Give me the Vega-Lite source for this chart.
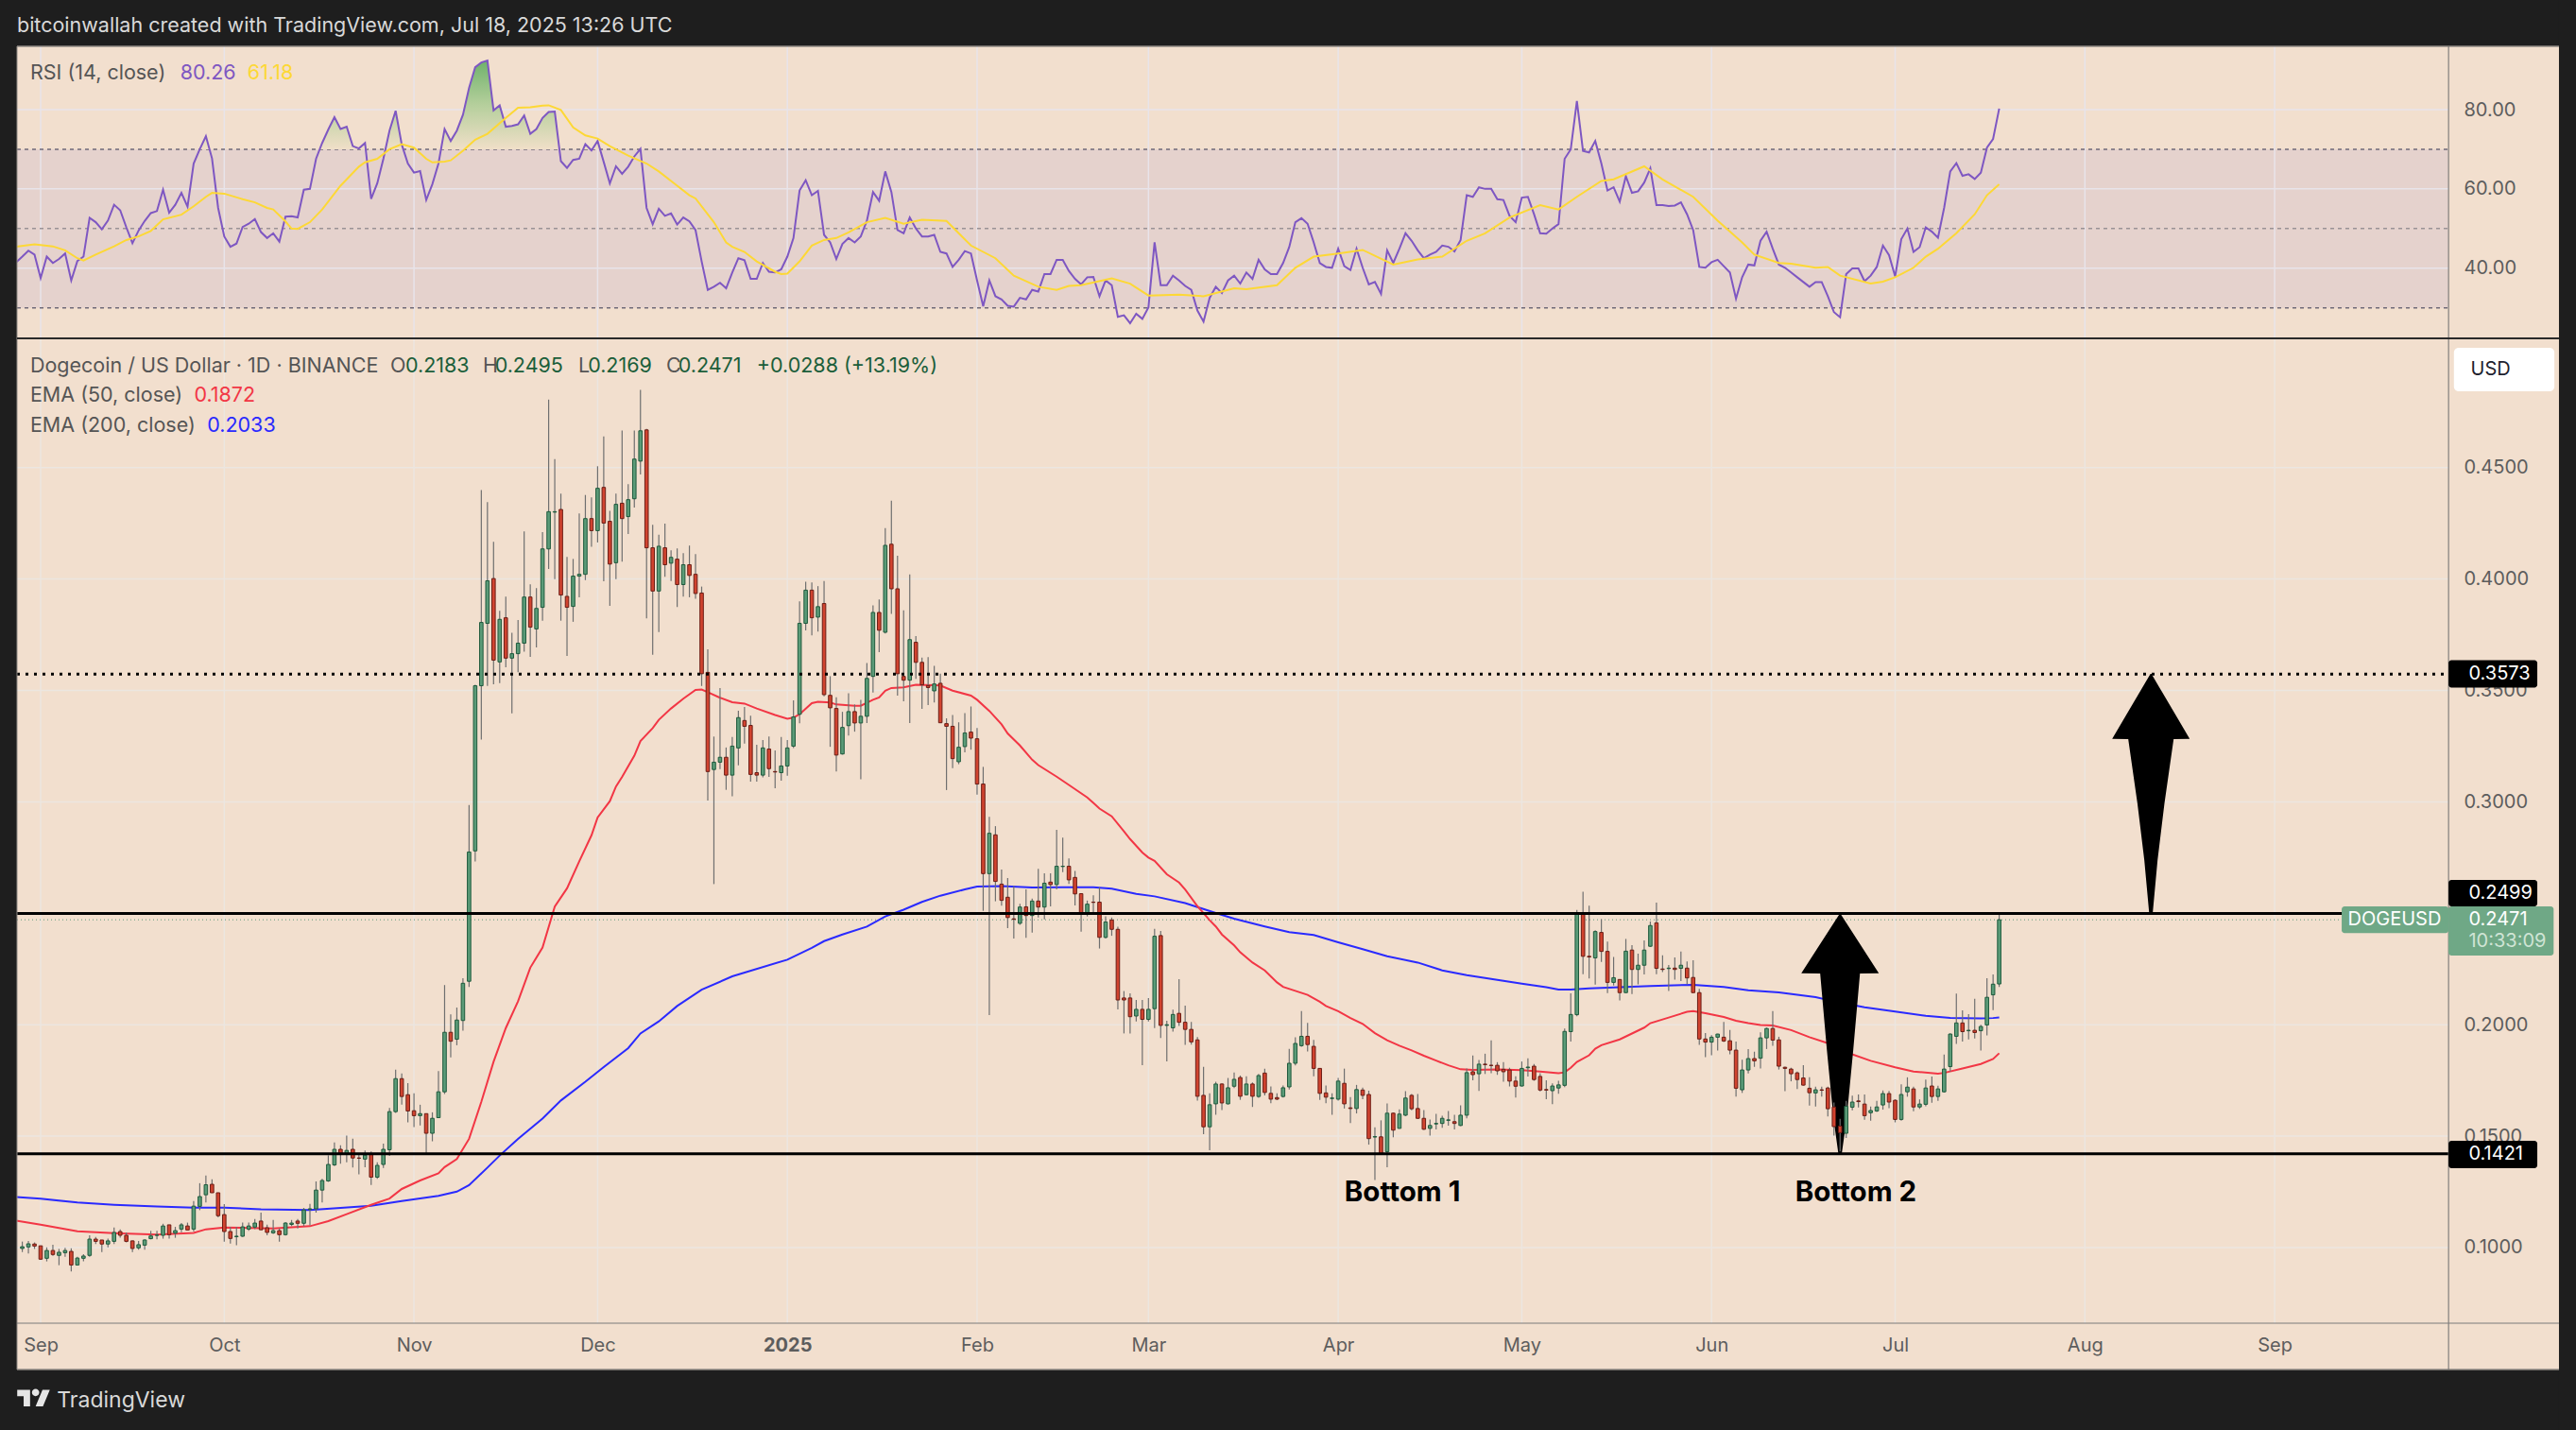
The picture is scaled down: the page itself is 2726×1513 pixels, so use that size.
{"$schema":"https://vega.github.io/schema/vega-lite/v6.json","background":"#1e1e1e","padding":0,"bounds":"flush","spacing":0,
"config":{"view":{"fill":"#f2dfce","stroke":null},"text":{"font":"Inter"}},
"datasets":{
"one":[{}],
"months":[{"d":"2024-09-01"},{"d":"2024-10-01"},{"d":"2024-11-01"},{"d":"2024-12-01"},{"d":"2025-01-01"},{"d":"2025-02-01"},{"d":"2025-03-01"},{"d":"2025-04-01"},{"d":"2025-05-01"},{"d":"2025-06-01"},{"d":"2025-07-01"},{"d":"2025-08-01"},{"d":"2025-09-01"}],
"arrows":[
{"a":"1","p":0.1424,"l":"2025-06-21T17:00:00Z","r":"2025-06-22T07:00:00Z"},{"a":"1","p":0.1581,"l":"2025-06-20T22:00:00Z","r":"2025-06-23T02:00:00Z"},{"a":"1","p":0.1891,"l":"2025-06-19T20:00:00Z","r":"2025-06-24T04:00:00Z"},{"a":"1","p":0.2230,"l":"2025-06-18T18:00:00Z","r":"2025-06-25T06:00:00Z"},{"a":"1","p":0.2231,"l":"2025-06-15T16:00:00Z","r":"2025-06-28T08:00:00Z"},{"a":"1","p":0.2497,"l":"2025-06-21T22:00:00Z","r":"2025-06-22T02:00:00Z"},
{"a":"2","p":0.2501,"l":"2025-08-11T12:00:00Z","r":"2025-08-12T02:00:00Z"},{"a":"2","p":0.2739,"l":"2025-08-10T17:00:00Z","r":"2025-08-12T21:00:00Z"},{"a":"2","p":0.2993,"l":"2025-08-09T14:00:00Z","r":"2025-08-14T00:00:00Z"},{"a":"2","p":0.3282,"l":"2025-08-08T02:00:00Z","r":"2025-08-15T12:00:00Z"},{"a":"2","p":0.3283,"l":"2025-08-05T11:00:00Z","r":"2025-08-18T03:00:00Z"},{"a":"2","p":0.3574,"l":"2025-08-11T17:00:00Z","r":"2025-08-11T21:00:00Z"}],
"over":[{"d":"2024-09-27","v":70},{"d":"2024-09-28","v":73.3},{"d":"2024-09-28T14:00:00Z","v":70},{"d":"2024-10-16T14:00:00Z","v":70},{"d":"2024-10-17","v":71.6},{"d":"2024-10-18","v":75},{"d":"2024-10-19","v":78.1},{"d":"2024-10-20","v":75.1},{"d":"2024-10-21","v":75.7},{"d":"2024-10-22","v":70.8},{"d":"2024-10-23","v":70.2},{"d":"2024-10-24","v":71.6},{"d":"2024-10-24T09:00:00Z","v":70},{"d":"2024-10-27T08:00:00Z","v":70},{"d":"2024-10-28","v":74.7},{"d":"2024-10-29","v":79.7},{"d":"2024-10-30","v":71.2},{"d":"2024-10-30T06:00:00Z","v":70},{"d":"2024-11-05T10:00:00Z","v":70},{"d":"2024-11-06","v":75.1},{"d":"2024-11-07","v":72.1},{"d":"2024-11-08","v":74.7},{"d":"2024-11-09","v":78.7},{"d":"2024-11-10","v":85.5},{"d":"2024-11-11","v":90.7},{"d":"2024-11-12","v":91.9},{"d":"2024-11-13","v":92.4},{"d":"2024-11-14","v":79.8},{"d":"2024-11-15","v":81.1},{"d":"2024-11-16","v":75.7},{"d":"2024-11-17","v":75.9},{"d":"2024-11-18","v":76.3},{"d":"2024-11-19","v":78.5},{"d":"2024-11-20","v":73.9},{"d":"2024-11-21","v":75.1},{"d":"2024-11-22","v":77.9},{"d":"2024-11-23","v":79.4},{"d":"2024-11-24","v":79.5},{"d":"2024-11-24T18:00:00Z","v":70},{"d":"2024-11-28T16:00:00Z","v":70},{"d":"2024-11-29","v":71.3},{"d":"2024-11-29T19:00:00Z","v":70},{"d":"2024-11-30T03:00:00Z","v":70},{"d":"2024-12-01","v":72.1},{"d":"2024-12-01T10:00:00Z","v":70}],
"rsi":[{"d":"2024-08-28","v":41.5},{"d":"2024-08-29","v":42.9},{"d":"2024-08-30","v":44.4},{"d":"2024-08-31","v":43.4},{"d":"2024-09-01","v":37.5},{"d":"2024-09-02","v":42.9},{"d":"2024-09-03","v":41.3},{"d":"2024-09-04","v":42.3},{"d":"2024-09-05","v":43.7},{"d":"2024-09-06","v":36.9},{"d":"2024-09-07","v":41.8},{"d":"2024-09-08","v":42.9},{"d":"2024-09-09","v":52.7},{"d":"2024-09-10","v":51.6},{"d":"2024-09-11","v":49.8},{"d":"2024-09-12","v":52},{"d":"2024-09-13","v":56},{"d":"2024-09-14","v":54.6},{"d":"2024-09-15","v":50.3},{"d":"2024-09-16","v":46.3},{"d":"2024-09-17","v":49.5},{"d":"2024-09-18","v":51.9},{"d":"2024-09-19","v":53.9},{"d":"2024-09-20","v":54.4},{"d":"2024-09-21","v":59.8},{"d":"2024-09-22","v":54},{"d":"2024-09-23","v":56},{"d":"2024-09-24","v":59},{"d":"2024-09-25","v":55.5},{"d":"2024-09-26","v":66.4},{"d":"2024-09-27","v":70},{"d":"2024-09-28","v":73.3},{"d":"2024-09-29","v":67.7},{"d":"2024-09-30","v":55.2},{"d":"2024-10-01","v":48},{"d":"2024-10-02","v":45.4},{"d":"2024-10-03","v":46.2},{"d":"2024-10-04","v":50.4},{"d":"2024-10-05","v":51.2},{"d":"2024-10-06","v":52.4},{"d":"2024-10-07","v":49.1},{"d":"2024-10-08","v":47.6},{"d":"2024-10-09","v":48.8},{"d":"2024-10-10","v":46.7},{"d":"2024-10-11","v":53},{"d":"2024-10-12","v":53.1},{"d":"2024-10-13","v":52.8},{"d":"2024-10-14","v":59.8},{"d":"2024-10-15","v":60},{"d":"2024-10-16","v":67.6},{"d":"2024-10-17","v":71.6},{"d":"2024-10-18","v":75},{"d":"2024-10-19","v":78.1},{"d":"2024-10-20","v":75.1},{"d":"2024-10-21","v":75.7},{"d":"2024-10-22","v":70.8},{"d":"2024-10-23","v":70.2},{"d":"2024-10-24","v":71.6},{"d":"2024-10-25","v":57.5},{"d":"2024-10-26","v":61.4},{"d":"2024-10-27","v":67.6},{"d":"2024-10-28","v":74.7},{"d":"2024-10-29","v":79.7},{"d":"2024-10-30","v":71.2},{"d":"2024-10-31","v":66.4},{"d":"2024-11-01","v":64.1},{"d":"2024-11-02","v":64.5},{"d":"2024-11-03","v":57.2},{"d":"2024-11-04","v":61.2},{"d":"2024-11-05","v":66.4},{"d":"2024-11-06","v":75.1},{"d":"2024-11-07","v":72.1},{"d":"2024-11-08","v":74.7},{"d":"2024-11-09","v":78.7},{"d":"2024-11-10","v":85.5},{"d":"2024-11-11","v":90.7},{"d":"2024-11-12","v":91.9},{"d":"2024-11-13","v":92.4},{"d":"2024-11-14","v":79.8},{"d":"2024-11-15","v":81.1},{"d":"2024-11-16","v":75.7},{"d":"2024-11-17","v":75.9},{"d":"2024-11-18","v":76.3},{"d":"2024-11-19","v":78.5},{"d":"2024-11-20","v":73.9},{"d":"2024-11-21","v":75.1},{"d":"2024-11-22","v":77.9},{"d":"2024-11-23","v":79.4},{"d":"2024-11-24","v":79.5},{"d":"2024-11-25","v":67},{"d":"2024-11-26","v":65.3},{"d":"2024-11-27","v":67.3},{"d":"2024-11-28","v":67.6},{"d":"2024-11-29","v":71.3},{"d":"2024-11-30","v":69.7},{"d":"2024-12-01","v":72.1},{"d":"2024-12-02","v":66.8},{"d":"2024-12-03","v":61.4},{"d":"2024-12-04","v":65.7},{"d":"2024-12-05","v":63.8},{"d":"2024-12-06","v":65.6},{"d":"2024-12-07","v":68.2},{"d":"2024-12-08","v":70.1},{"d":"2024-12-09","v":55.2},{"d":"2024-12-10","v":51.1},{"d":"2024-12-11","v":55},{"d":"2024-12-12","v":53.2},{"d":"2024-12-13","v":53.8},{"d":"2024-12-14","v":51},{"d":"2024-12-15","v":52.8},{"d":"2024-12-16","v":51.8},{"d":"2024-12-17","v":49.6},{"d":"2024-12-18","v":41.7},{"d":"2024-12-19","v":34.5},{"d":"2024-12-20","v":35.3},{"d":"2024-12-21","v":36.3},{"d":"2024-12-22","v":34.9},{"d":"2024-12-23","v":38.9},{"d":"2024-12-24","v":42.5},{"d":"2024-12-25","v":42},{"d":"2024-12-26","v":37.3},{"d":"2024-12-27","v":37.3},{"d":"2024-12-28","v":41.3},{"d":"2024-12-29","v":39.1},{"d":"2024-12-30","v":38.9},{"d":"2024-12-31","v":39.7},{"d":"2025-01-01","v":42.9},{"d":"2025-01-02","v":47.6},{"d":"2025-01-03","v":59.6},{"d":"2025-01-04","v":62.2},{"d":"2025-01-05","v":58.4},{"d":"2025-01-06","v":59.5},{"d":"2025-01-07","v":48.4},{"d":"2025-01-08","v":46.5},{"d":"2025-01-09","v":42.3},{"d":"2025-01-10","v":46.1},{"d":"2025-01-11","v":47.6},{"d":"2025-01-12","v":46.5},{"d":"2025-01-13","v":48},{"d":"2025-01-14","v":52},{"d":"2025-01-15","v":59.2},{"d":"2025-01-16","v":57},{"d":"2025-01-17","v":64.4},{"d":"2025-01-18","v":59.2},{"d":"2025-01-19","v":49.6},{"d":"2025-01-20","v":48.8},{"d":"2025-01-21","v":52.8},{"d":"2025-01-22","v":50},{"d":"2025-01-23","v":48},{"d":"2025-01-24","v":48},{"d":"2025-01-25","v":48.4},{"d":"2025-01-26","v":44.1},{"d":"2025-01-27","v":43.7},{"d":"2025-01-28","v":40.3},{"d":"2025-01-29","v":42.1},{"d":"2025-01-30","v":44.3},{"d":"2025-01-31","v":43.7},{"d":"2025-02-01","v":36.9},{"d":"2025-02-02","v":30.4},{"d":"2025-02-03","v":36.9},{"d":"2025-02-04","v":32.9},{"d":"2025-02-05","v":32.1},{"d":"2025-02-06","v":30.5},{"d":"2025-02-07","v":30.3},{"d":"2025-02-08","v":32.5},{"d":"2025-02-09","v":32.1},{"d":"2025-02-10","v":34.5},{"d":"2025-02-11","v":34.1},{"d":"2025-02-12","v":38.5},{"d":"2025-02-13","v":38.5},{"d":"2025-02-14","v":42.1},{"d":"2025-02-15","v":42.1},{"d":"2025-02-16","v":39.3},{"d":"2025-02-17","v":37.3},{"d":"2025-02-18","v":35.9},{"d":"2025-02-19","v":37.7},{"d":"2025-02-20","v":37.8},{"d":"2025-02-21","v":32.9},{"d":"2025-02-22","v":36.9},{"d":"2025-02-23","v":35.7},{"d":"2025-02-24","v":27.7},{"d":"2025-02-25","v":28.1},{"d":"2025-02-26","v":26.1},{"d":"2025-02-27","v":28.5},{"d":"2025-02-28","v":27.2},{"d":"2025-03-01","v":30.1},{"d":"2025-03-02","v":46.5},{"d":"2025-03-03","v":35.7},{"d":"2025-03-04","v":35.7},{"d":"2025-03-05","v":38.1},{"d":"2025-03-06","v":36.9},{"d":"2025-03-07","v":35.5},{"d":"2025-03-08","v":34.5},{"d":"2025-03-09","v":29.3},{"d":"2025-03-10","v":26.5},{"d":"2025-03-11","v":32.5},{"d":"2025-03-12","v":35.3},{"d":"2025-03-13","v":33.7},{"d":"2025-03-14","v":36.9},{"d":"2025-03-15","v":38.1},{"d":"2025-03-16","v":36.1},{"d":"2025-03-17","v":38.9},{"d":"2025-03-18","v":37.3},{"d":"2025-03-19","v":42.1},{"d":"2025-03-20","v":39.7},{"d":"2025-03-21","v":38.5},{"d":"2025-03-22","v":38.5},{"d":"2025-03-23","v":41.3},{"d":"2025-03-24","v":45.3},{"d":"2025-03-25","v":51.6},{"d":"2025-03-26","v":52.6},{"d":"2025-03-27","v":51.2},{"d":"2025-03-28","v":46.5},{"d":"2025-03-29","v":41.3},{"d":"2025-03-30","v":40.3},{"d":"2025-03-31","v":40.1},{"d":"2025-04-01","v":44.9},{"d":"2025-04-02","v":40.5},{"d":"2025-04-03","v":39.5},{"d":"2025-04-04","v":44.9},{"d":"2025-04-05","v":40.1},{"d":"2025-04-06","v":35.9},{"d":"2025-04-07","v":36.5},{"d":"2025-04-08","v":33.5},{"d":"2025-04-09","v":44.5},{"d":"2025-04-10","v":41.3},{"d":"2025-04-11","v":44.9},{"d":"2025-04-12","v":48.8},{"d":"2025-04-13","v":46.9},{"d":"2025-04-14","v":44.5},{"d":"2025-04-15","v":42.5},{"d":"2025-04-16","v":43.4},{"d":"2025-04-17","v":44.1},{"d":"2025-04-18","v":45.7},{"d":"2025-04-19","v":45.4},{"d":"2025-04-20","v":44.2},{"d":"2025-04-21","v":47.1},{"d":"2025-04-22","v":58.4},{"d":"2025-04-23","v":58},{"d":"2025-04-24","v":60.4},{"d":"2025-04-25","v":60},{"d":"2025-04-26","v":60},{"d":"2025-04-27","v":57.4},{"d":"2025-04-28","v":57.2},{"d":"2025-04-29","v":53.2},{"d":"2025-04-30","v":51.6},{"d":"2025-05-01","v":57.8},{"d":"2025-05-02","v":58},{"d":"2025-05-03","v":53.6},{"d":"2025-05-04","v":48.8},{"d":"2025-05-05","v":48.7},{"d":"2025-05-06","v":50},{"d":"2025-05-07","v":51.1},{"d":"2025-05-08","v":67.6},{"d":"2025-05-09","v":70},{"d":"2025-05-10","v":82.2},{"d":"2025-05-11","v":69.6},{"d":"2025-05-12","v":69.2},{"d":"2025-05-13","v":72.1},{"d":"2025-05-14","v":66.4},{"d":"2025-05-15","v":59.6},{"d":"2025-05-16","v":60.4},{"d":"2025-05-17","v":56.8},{"d":"2025-05-18","v":63.2},{"d":"2025-05-19","v":59},{"d":"2025-05-20","v":59.4},{"d":"2025-05-21","v":61.6},{"d":"2025-05-22","v":65.2},{"d":"2025-05-23","v":55.9},{"d":"2025-05-24","v":55.9},{"d":"2025-05-25","v":55.7},{"d":"2025-05-26","v":55.8},{"d":"2025-05-27","v":56.6},{"d":"2025-05-28","v":53.6},{"d":"2025-05-29","v":49.6},{"d":"2025-05-30","v":40.3},{"d":"2025-05-31","v":40.1},{"d":"2025-06-01","v":41.5},{"d":"2025-06-02","v":42.1},{"d":"2025-06-03","v":40.5},{"d":"2025-06-04","v":38.9},{"d":"2025-06-05","v":32.3},{"d":"2025-06-06","v":37.7},{"d":"2025-06-07","v":40.9},{"d":"2025-06-08","v":40.7},{"d":"2025-06-09","v":46.9},{"d":"2025-06-10","v":49.2},{"d":"2025-06-11","v":44.9},{"d":"2025-06-12","v":40.9},{"d":"2025-06-13","v":40.1},{"d":"2025-06-14","v":38.9},{"d":"2025-06-15","v":37.7},{"d":"2025-06-16","v":36.5},{"d":"2025-06-17","v":35.3},{"d":"2025-06-18","v":36.5},{"d":"2025-06-19","v":36.5},{"d":"2025-06-20","v":32.9},{"d":"2025-06-21","v":28.9},{"d":"2025-06-22","v":27.6},{"d":"2025-06-23","v":38.5},{"d":"2025-06-24","v":39.9},{"d":"2025-06-25","v":39.9},{"d":"2025-06-26","v":36.7},{"d":"2025-06-27","v":38.1},{"d":"2025-06-28","v":40.3},{"d":"2025-06-29","v":45.7},{"d":"2025-06-30","v":43.3},{"d":"2025-07-01","v":37.9},{"d":"2025-07-02","v":47.3},{"d":"2025-07-03","v":50},{"d":"2025-07-04","v":44.1},{"d":"2025-07-05","v":45.3},{"d":"2025-07-06","v":50.3},{"d":"2025-07-07","v":49.2},{"d":"2025-07-08","v":47.7},{"d":"2025-07-09","v":55.2},{"d":"2025-07-10","v":64.4},{"d":"2025-07-11","v":66.5},{"d":"2025-07-12","v":63.3},{"d":"2025-07-13","v":63.7},{"d":"2025-07-14","v":62.5},{"d":"2025-07-15","v":64.1},{"d":"2025-07-16","v":70.4},{"d":"2025-07-17","v":72.6},{"d":"2025-07-18","v":80.26}],
"rsima":[{"d":"2024-08-28","v":45.4},{"d":"2024-08-31","v":46},{"d":"2024-09-03","v":45.5},{"d":"2024-09-05","v":44.5},{"d":"2024-09-07","v":42.5},{"d":"2024-09-08","v":41.9},{"d":"2024-09-10","v":43.4},{"d":"2024-09-13","v":45.5},{"d":"2024-09-15","v":47.1},{"d":"2024-09-17","v":48},{"d":"2024-09-19","v":49.4},{"d":"2024-09-21","v":52.3},{"d":"2024-09-24","v":53.5},{"d":"2024-09-26","v":55.6},{"d":"2024-09-28","v":58},{"d":"2024-09-29","v":59},{"d":"2024-10-01","v":58.8},{"d":"2024-10-04","v":57.4},{"d":"2024-10-06","v":56.6},{"d":"2024-10-08","v":55.2},{"d":"2024-10-09","v":54.8},{"d":"2024-10-11","v":51.8},{"d":"2024-10-12","v":50},{"d":"2024-10-13","v":49.9},{"d":"2024-10-15","v":51.6},{"d":"2024-10-17","v":54.8},{"d":"2024-10-20","v":60.8},{"d":"2024-10-23","v":65.6},{"d":"2024-10-24","v":66.7},{"d":"2024-10-26","v":67.6},{"d":"2024-10-28","v":70},{"d":"2024-10-30","v":71.3},{"d":"2024-11-01","v":70.4},{"d":"2024-11-03","v":67.6},{"d":"2024-11-04","v":66.7},{"d":"2024-11-06","v":66.9},{"d":"2024-11-07","v":67.2},{"d":"2024-11-09","v":69.6},{"d":"2024-11-11","v":72.4},{"d":"2024-11-13","v":73.9},{"d":"2024-11-16","v":77.9},{"d":"2024-11-18","v":80.5},{"d":"2024-11-20","v":80.6},{"d":"2024-11-22","v":81},{"d":"2024-11-23","v":81.1},{"d":"2024-11-25","v":79.9},{"d":"2024-11-27","v":75.5},{"d":"2024-11-29","v":73.5},{"d":"2024-12-01","v":72.7},{"d":"2024-12-03","v":70.8},{"d":"2024-12-06","v":68.4},{"d":"2024-12-09","v":66.4},{"d":"2024-12-11","v":64.4},{"d":"2024-12-14","v":60.8},{"d":"2024-12-16","v":58.4},{"d":"2024-12-17","v":57.6},{"d":"2024-12-20","v":51.6},{"d":"2024-12-22","v":46.5},{"d":"2024-12-23","v":45.4},{"d":"2024-12-25","v":44.1},{"d":"2024-12-27","v":41.7},{"d":"2024-12-30","v":39.1},{"d":"2024-12-31","v":38.5},{"d":"2025-01-01","v":38.6},{"d":"2025-01-03","v":41.7},{"d":"2025-01-05","v":45.7},{"d":"2025-01-07","v":47.1},{"d":"2025-01-09","v":47.6},{"d":"2025-01-11","v":49},{"d":"2025-01-14","v":51.6},{"d":"2025-01-17","v":52.7},{"d":"2025-01-20","v":51.2},{"d":"2025-01-23","v":52.2},{"d":"2025-01-27","v":51.9},{"d":"2025-01-31","v":45.7},{"d":"2025-02-04","v":42.5},{"d":"2025-02-07","v":38.1},{"d":"2025-02-11","v":35.3},{"d":"2025-02-14","v":34.5},{"d":"2025-02-16","v":35.5},{"d":"2025-02-18","v":35.7},{"d":"2025-02-23","v":37.4},{"d":"2025-02-26","v":36.1},{"d":"2025-03-01","v":33.1},{"d":"2025-03-06","v":33.3},{"d":"2025-03-10","v":32.9},{"d":"2025-03-15","v":34.9},{"d":"2025-03-17","v":34.7},{"d":"2025-03-22","v":35.7},{"d":"2025-03-25","v":40.1},{"d":"2025-03-28","v":42.9},{"d":"2025-04-01","v":43.7},{"d":"2025-04-05","v":44.6},{"d":"2025-04-10","v":40.9},{"d":"2025-04-14","v":42.2},{"d":"2025-04-18","v":42.9},{"d":"2025-04-22","v":46.9},{"d":"2025-04-25","v":48.8},{"d":"2025-04-29","v":52.8},{"d":"2025-05-04","v":55.9},{"d":"2025-05-07","v":54.8},{"d":"2025-05-10","v":58},{"d":"2025-05-14","v":62},{"d":"2025-05-16","v":62.4},{"d":"2025-05-21","v":65.7},{"d":"2025-05-24","v":62.4},{"d":"2025-05-29","v":58},{"d":"2025-06-02","v":52},{"d":"2025-06-06","v":46.5},{"d":"2025-06-08","v":43.4},{"d":"2025-06-12","v":41.3},{"d":"2025-06-14","v":41.1},{"d":"2025-06-18","v":40.1},{"d":"2025-06-20","v":40.3},{"d":"2025-06-22","v":38.1},{"d":"2025-06-27","v":36.1},{"d":"2025-06-29","v":36.6},{"d":"2025-07-01","v":37.7},{"d":"2025-07-04","v":40.1},{"d":"2025-07-06","v":42.9},{"d":"2025-07-08","v":44.9},{"d":"2025-07-11","v":48.8},{"d":"2025-07-14","v":53.6},{"d":"2025-07-16","v":58.4},{"d":"2025-07-18","v":61.18}],
"ema50":[{"d":"2024-08-28","v":0.1121},{"d":"2024-09-01","v":0.1103},{"d":"2024-09-07","v":0.1073},{"d":"2024-09-13","v":0.1065},{"d":"2024-09-20","v":0.1058},{"d":"2024-09-26","v":0.1066},{"d":"2024-09-28","v":0.1082},{"d":"2024-10-01","v":0.109},{"d":"2024-10-09","v":0.1086},{"d":"2024-10-15","v":0.1096},{"d":"2024-10-18","v":0.1119},{"d":"2024-10-21","v":0.115},{"d":"2024-10-25","v":0.1192},{"d":"2024-10-28","v":0.122},{"d":"2024-10-30","v":0.1263},{"d":"2024-11-02","v":0.1301},{"d":"2024-11-05","v":0.1333},{"d":"2024-11-06","v":0.1361},{"d":"2024-11-08","v":0.1397},{"d":"2024-11-10","v":0.1488},{"d":"2024-11-12","v":0.1654},{"d":"2024-11-14","v":0.1834},{"d":"2024-11-16","v":0.1985},{"d":"2024-11-18","v":0.2105},{"d":"2024-11-20","v":0.2256},{"d":"2024-11-22","v":0.2346},{"d":"2024-11-24","v":0.253},{"d":"2024-11-26","v":0.2612},{"d":"2024-11-28","v":0.2733},{"d":"2024-11-30","v":0.285},{"d":"2024-12-01","v":0.293},{"d":"2024-12-03","v":0.3003},{"d":"2024-12-04","v":0.3069},{"d":"2024-12-05","v":0.3112},{"d":"2024-12-07","v":0.3207},{"d":"2024-12-08","v":0.3273},{"d":"2024-12-10","v":0.3331},{"d":"2024-12-11","v":0.3368},{"d":"2024-12-13","v":0.3419},{"d":"2024-12-15","v":0.3463},{"d":"2024-12-17","v":0.3502},{"d":"2024-12-18","v":0.3504},{"d":"2024-12-19","v":0.3492},{"d":"2024-12-21","v":0.3467},{"d":"2024-12-23","v":0.3447},{"d":"2024-12-25","v":0.3441},{"d":"2024-12-27","v":0.3419},{"d":"2024-12-30","v":0.339},{"d":"2025-01-01","v":0.3373},{"d":"2025-01-02","v":0.3378},{"d":"2025-01-03","v":0.3393},{"d":"2025-01-05","v":0.3443},{"d":"2025-01-06","v":0.3449},{"d":"2025-01-08","v":0.3446},{"d":"2025-01-09","v":0.3437},{"d":"2025-01-12","v":0.3431},{"d":"2025-01-13","v":0.3431},{"d":"2025-01-15","v":0.3458},{"d":"2025-01-16","v":0.3469},{"d":"2025-01-17","v":0.3499},{"d":"2025-01-18","v":0.3511},{"d":"2025-01-20","v":0.3514},{"d":"2025-01-22","v":0.3525},{"d":"2025-01-25","v":0.3523},{"d":"2025-01-26","v":0.3522},{"d":"2025-01-28","v":0.3499},{"d":"2025-01-31","v":0.3477},{"d":"2025-02-01","v":0.3458},{"d":"2025-02-03","v":0.3408},{"d":"2025-02-05","v":0.3348},{"d":"2025-02-06","v":0.3307},{"d":"2025-02-08","v":0.3253},{"d":"2025-02-10","v":0.3189},{"d":"2025-02-11","v":0.3165},{"d":"2025-02-14","v":0.3113},{"d":"2025-02-16","v":0.3076},{"d":"2025-02-19","v":0.302},{"d":"2025-02-20","v":0.2995},{"d":"2025-02-21","v":0.297},{"d":"2025-02-23","v":0.2935},{"d":"2025-02-25","v":0.2868},{"d":"2025-02-26","v":0.2833},{"d":"2025-02-28","v":0.2773},{"d":"2025-03-01","v":0.275},{"d":"2025-03-02","v":0.2735},{"d":"2025-03-04","v":0.2675},{"d":"2025-03-06","v":0.2638},{"d":"2025-03-07","v":0.2607},{"d":"2025-03-09","v":0.2532},{"d":"2025-03-11","v":0.2469},{"d":"2025-03-12","v":0.2441},{"d":"2025-03-13","v":0.2405},{"d":"2025-03-15","v":0.2356},{"d":"2025-03-16","v":0.2325},{"d":"2025-03-18","v":0.2279},{"d":"2025-03-20","v":0.2244},{"d":"2025-03-22","v":0.219},{"d":"2025-03-23","v":0.217},{"d":"2025-03-25","v":0.2152},{"d":"2025-03-27","v":0.2134},{"d":"2025-03-29","v":0.2103},{"d":"2025-03-30","v":0.2084},{"d":"2025-04-01","v":0.2061},{"d":"2025-04-03","v":0.203},{"d":"2025-04-05","v":0.2004},{"d":"2025-04-07","v":0.1962},{"d":"2025-04-09","v":0.193},{"d":"2025-04-11","v":0.1906},{"d":"2025-04-13","v":0.1885},{"d":"2025-04-15","v":0.1861},{"d":"2025-04-17","v":0.1839},{"d":"2025-04-19","v":0.1818},{"d":"2025-04-21","v":0.18},{"d":"2025-04-23","v":0.1797},{"d":"2025-04-27","v":0.1799},{"d":"2025-05-01","v":0.1796},{"d":"2025-05-04","v":0.179},{"d":"2025-05-07","v":0.1782},{"d":"2025-05-08","v":0.1786},{"d":"2025-05-09","v":0.1807},{"d":"2025-05-10","v":0.1833},{"d":"2025-05-12","v":0.1863},{"d":"2025-05-13","v":0.1892},{"d":"2025-05-14","v":0.1908},{"d":"2025-05-17","v":0.1934},{"d":"2025-05-21","v":0.1987},{"d":"2025-05-22","v":0.2007},{"d":"2025-05-25","v":0.2032},{"d":"2025-05-28","v":0.2058},{"d":"2025-05-29","v":0.2061},{"d":"2025-05-31","v":0.2052},{"d":"2025-06-03","v":0.2035},{"d":"2025-06-05","v":0.2018},{"d":"2025-06-07","v":0.2007},{"d":"2025-06-09","v":0.1999},{"d":"2025-06-11","v":0.1997},{"d":"2025-06-14","v":0.1976},{"d":"2025-06-17","v":0.1944},{"d":"2025-06-20","v":0.1917},{"d":"2025-06-23","v":0.1877},{"d":"2025-06-27","v":0.1838},{"d":"2025-07-01","v":0.1809},{"d":"2025-07-04","v":0.179},{"d":"2025-07-08","v":0.178},{"d":"2025-07-09","v":0.1784},{"d":"2025-07-12","v":0.1804},{"d":"2025-07-15","v":0.1824},{"d":"2025-07-17","v":0.1846},{"d":"2025-07-18","v":0.1872}],
"ema200":[{"d":"2024-08-28","v":0.1227},{"d":"2024-09-01","v":0.1219},{"d":"2024-09-07","v":0.1202},{"d":"2024-09-13","v":0.1192},{"d":"2024-09-20","v":0.1184},{"d":"2024-09-26","v":0.1179},{"d":"2024-10-01","v":0.1179},{"d":"2024-10-07","v":0.1172},{"d":"2024-10-15","v":0.1169},{"d":"2024-10-20","v":0.1178},{"d":"2024-10-25","v":0.1188},{"d":"2024-10-30","v":0.1209},{"d":"2024-11-05","v":0.1232},{"d":"2024-11-08","v":0.1251},{"d":"2024-11-10","v":0.128},{"d":"2024-11-13","v":0.1359},{"d":"2024-11-15","v":0.1413},{"d":"2024-11-18","v":0.1488},{"d":"2024-11-22","v":0.1579},{"d":"2024-11-25","v":0.166},{"d":"2024-11-29","v":0.1744},{"d":"2024-12-02","v":0.181},{"d":"2024-12-06","v":0.1895},{"d":"2024-12-08","v":0.1961},{"d":"2024-12-11","v":0.2015},{"d":"2024-12-14","v":0.2084},{"d":"2024-12-18","v":0.2157},{"d":"2024-12-23","v":0.2217},{"d":"2025-01-01","v":0.2292},{"d":"2025-01-05","v":0.2345},{"d":"2025-01-07","v":0.2375},{"d":"2025-01-10","v":0.2405},{"d":"2025-01-14","v":0.244},{"d":"2025-01-17","v":0.2486},{"d":"2025-01-20","v":0.2516},{"d":"2025-01-23","v":0.2551},{"d":"2025-01-26","v":0.2579},{"d":"2025-01-30","v":0.2607},{"d":"2025-02-01","v":0.262},{"d":"2025-02-05","v":0.2622},{"d":"2025-02-10","v":0.2616},{"d":"2025-02-15","v":0.2617},{"d":"2025-02-20","v":0.2617},{"d":"2025-02-23","v":0.261},{"d":"2025-02-27","v":0.2587},{"d":"2025-03-02","v":0.2576},{"d":"2025-03-07","v":0.2546},{"d":"2025-03-09","v":0.2528},{"d":"2025-03-12","v":0.2501},{"d":"2025-03-15","v":0.2476},{"d":"2025-03-20","v":0.2441},{"d":"2025-03-24","v":0.2415},{"d":"2025-03-28","v":0.2403},{"d":"2025-04-01","v":0.237},{"d":"2025-04-05","v":0.2339},{"d":"2025-04-09","v":0.2307},{"d":"2025-04-14","v":0.2279},{"d":"2025-04-18","v":0.2244},{"d":"2025-04-22","v":0.2222},{"d":"2025-04-28","v":0.2197},{"d":"2025-05-01","v":0.2184},{"d":"2025-05-05","v":0.2168},{"d":"2025-05-07","v":0.2158},{"d":"2025-05-09","v":0.2158},{"d":"2025-05-12","v":0.2163},{"d":"2025-05-16","v":0.2167},{"d":"2025-05-22","v":0.2174},{"d":"2025-05-29","v":0.2179},{"d":"2025-06-03","v":0.2169},{"d":"2025-06-07","v":0.2155},{"d":"2025-06-12","v":0.2145},{"d":"2025-06-18","v":0.2124},{"d":"2025-06-22","v":0.2099},{"d":"2025-06-26","v":0.2078},{"d":"2025-07-01","v":0.2059},{"d":"2025-07-06","v":0.204},{"d":"2025-07-10","v":0.2031},{"d":"2025-07-15","v":0.2028},{"d":"2025-07-17","v":0.203},{"d":"2025-07-18","v":0.2033}],
"candles":[
{"d":"2024-08-29","o":0.0996,"h":0.1027,"l":0.098,"c":0.1004},{"d":"2024-08-30","o":0.1003,"h":0.103,"l":0.0973,"c":0.1017},{"d":"2024-08-31","o":0.1016,"h":0.1023,"l":0.0994,"c":0.1007},{"d":"2024-09-01","o":0.1008,"h":0.1008,"l":0.0945,"c":0.0948},{"d":"2024-09-02","o":0.0952,"h":0.1001,"l":0.0938,"c":0.0987},{"d":"2024-09-03","o":0.0987,"h":0.1013,"l":0.0963,"c":0.0969},{"d":"2024-09-04","o":0.0965,"h":0.0994,"l":0.0921,"c":0.0979},{"d":"2024-09-05","o":0.0977,"h":0.0999,"l":0.0959,"c":0.0987},{"d":"2024-09-06","o":0.0983,"h":0.0997,"l":0.0893,"c":0.0922},{"d":"2024-09-07","o":0.0922,"h":0.0959,"l":0.092,"c":0.0953},{"d":"2024-09-08","o":0.0952,"h":0.097,"l":0.0938,"c":0.0962},{"d":"2024-09-09","o":0.0965,"h":0.1055,"l":0.0959,"c":0.1038},{"d":"2024-09-10","o":0.1038,"h":0.1048,"l":0.1016,"c":0.1028},{"d":"2024-09-11","o":0.1034,"h":0.1034,"l":0.098,"c":0.1016},{"d":"2024-09-12","o":0.1016,"h":0.104,"l":0.1001,"c":0.103},{"d":"2024-09-13","o":0.1028,"h":0.109,"l":0.1016,"c":0.1068},{"d":"2024-09-14","o":0.1072,"h":0.1082,"l":0.1044,"c":0.1055},{"d":"2024-09-15","o":0.1055,"h":0.1068,"l":0.1023,"c":0.1028},{"d":"2024-09-16","o":0.103,"h":0.1032,"l":0.098,"c":0.0996},{"d":"2024-09-17","o":0.0999,"h":0.103,"l":0.099,"c":0.1013},{"d":"2024-09-18","o":0.1011,"h":0.1037,"l":0.099,"c":0.1034},{"d":"2024-09-19","o":0.104,"h":0.1075,"l":0.1037,"c":0.1052},{"d":"2024-09-20","o":0.1055,"h":0.1075,"l":0.1037,"c":0.1056},{"d":"2024-09-21","o":0.1055,"h":0.1107,"l":0.104,"c":0.1097},{"d":"2024-09-22","o":0.1102,"h":0.1102,"l":0.104,"c":0.1058},{"d":"2024-09-23","o":0.1065,"h":0.1093,"l":0.1044,"c":0.1076},{"d":"2024-09-24","o":0.1083,"h":0.111,"l":0.1069,"c":0.1102},{"d":"2024-09-25","o":0.1097,"h":0.1112,"l":0.1079,"c":0.1079},{"d":"2024-09-26","o":0.1083,"h":0.1209,"l":0.1072,"c":0.1186},{"d":"2024-09-27","o":0.1185,"h":0.1289,"l":0.1168,"c":0.1229},{"d":"2024-09-28","o":0.1237,"h":0.1323,"l":0.1202,"c":0.1282},{"d":"2024-09-29","o":0.1284,"h":0.1306,"l":0.1246,"c":0.1246},{"d":"2024-09-30","o":0.1246,"h":0.1246,"l":0.1136,"c":0.1143},{"d":"2024-10-01","o":0.1148,"h":0.1195,"l":0.1027,"c":0.1072},{"d":"2024-10-02","o":0.1072,"h":0.1093,"l":0.1018,"c":0.1041},{"d":"2024-10-03","o":0.1049,"h":0.1093,"l":0.1011,"c":0.1051},{"d":"2024-10-04","o":0.1051,"h":0.1112,"l":0.1048,"c":0.1093},{"d":"2024-10-05","o":0.1083,"h":0.1112,"l":0.1075,"c":0.1097},{"d":"2024-10-06","o":0.1092,"h":0.1128,"l":0.1083,"c":0.111},{"d":"2024-10-07","o":0.1119,"h":0.1157,"l":0.1079,"c":0.108},{"d":"2024-10-08","o":0.1089,"h":0.1103,"l":0.1055,"c":0.1068},{"d":"2024-10-09","o":0.1066,"h":0.1124,"l":0.1062,"c":0.1076},{"d":"2024-10-10","o":0.1076,"h":0.1086,"l":0.1027,"c":0.1058},{"d":"2024-10-11","o":0.1058,"h":0.1114,"l":0.1054,"c":0.111},{"d":"2024-10-12","o":0.1104,"h":0.1124,"l":0.1096,"c":0.111},{"d":"2024-10-13","o":0.1119,"h":0.1128,"l":0.1086,"c":0.1109},{"d":"2024-10-14","o":0.1109,"h":0.1178,"l":0.1096,"c":0.1169},{"d":"2024-10-15","o":0.1171,"h":0.1196,"l":0.11,"c":0.1174},{"d":"2024-10-16","o":0.1174,"h":0.1297,"l":0.1157,"c":0.1258},{"d":"2024-10-17","o":0.1258,"h":0.1309,"l":0.1202,"c":0.1301},{"d":"2024-10-18","o":0.1299,"h":0.1414,"l":0.1295,"c":0.1373},{"d":"2024-10-19","o":0.1371,"h":0.1472,"l":0.1366,"c":0.1441},{"d":"2024-10-20","o":0.1441,"h":0.1459,"l":0.1376,"c":0.1418},{"d":"2024-10-21","o":0.1418,"h":0.1503,"l":0.1383,"c":0.1436},{"d":"2024-10-22","o":0.1441,"h":0.1489,"l":0.1359,"c":0.1402},{"d":"2024-10-23","o":0.1402,"h":0.1418,"l":0.1329,"c":0.1401},{"d":"2024-10-24","o":0.1397,"h":0.1436,"l":0.1361,"c":0.1415},{"d":"2024-10-25","o":0.1419,"h":0.1432,"l":0.1281,"c":0.1316},{"d":"2024-10-26","o":0.1316,"h":0.1383,"l":0.1308,"c":0.1369},{"d":"2024-10-27","o":0.1373,"h":0.1467,"l":0.1357,"c":0.1441},{"d":"2024-10-28","o":0.1439,"h":0.1627,"l":0.1411,"c":0.161},{"d":"2024-10-29","o":0.161,"h":0.1798,"l":0.1604,"c":0.1758},{"d":"2024-10-30","o":0.1758,"h":0.1781,"l":0.1641,"c":0.1678},{"d":"2024-10-31","o":0.1686,"h":0.1738,"l":0.1562,"c":0.1613},{"d":"2024-11-01","o":0.1614,"h":0.1692,"l":0.1541,"c":0.1592},{"d":"2024-11-02","o":0.1592,"h":0.1641,"l":0.1548,"c":0.1601},{"d":"2024-11-03","o":0.1601,"h":0.1601,"l":0.1422,"c":0.1513},{"d":"2024-11-04","o":0.1513,"h":0.1607,"l":0.1477,"c":0.158},{"d":"2024-11-05","o":0.1583,"h":0.1792,"l":0.1583,"c":0.1699},{"d":"2024-11-06","o":0.1699,"h":0.2178,"l":0.1689,"c":0.1966},{"d":"2024-11-07","o":0.1966,"h":0.2046,"l":0.1854,"c":0.1926},{"d":"2024-11-08","o":0.1935,"h":0.2077,"l":0.1908,"c":0.2021},{"d":"2024-11-09","o":0.2019,"h":0.2209,"l":0.1973,"c":0.2186},{"d":"2024-11-10","o":0.2195,"h":0.2986,"l":0.2169,"c":0.2775},{"d":"2024-11-11","o":0.278,"h":0.3525,"l":0.2732,"c":0.3521},{"d":"2024-11-12","o":0.3521,"h":0.4399,"l":0.328,"c":0.3805},{"d":"2024-11-13","o":0.3801,"h":0.4345,"l":0.352,"c":0.3992},{"d":"2024-11-14","o":0.4002,"h":0.4167,"l":0.3528,"c":0.3636},{"d":"2024-11-15","o":0.3628,"h":0.3857,"l":0.3533,"c":0.3819},{"d":"2024-11-16","o":0.3826,"h":0.3921,"l":0.3604,"c":0.3645},{"d":"2024-11-17","o":0.3645,"h":0.3759,"l":0.3397,"c":0.3665},{"d":"2024-11-18","o":0.3665,"h":0.3816,"l":0.3582,"c":0.3712},{"d":"2024-11-19","o":0.3712,"h":0.4214,"l":0.3674,"c":0.3919},{"d":"2024-11-20","o":0.3919,"h":0.3976,"l":0.3651,"c":0.3784},{"d":"2024-11-21","o":0.3776,"h":0.3959,"l":0.3693,"c":0.3868},{"d":"2024-11-22","o":0.3873,"h":0.421,"l":0.3813,"c":0.4135},{"d":"2024-11-23","o":0.4135,"h":0.4805,"l":0.4045,"c":0.4302},{"d":"2024-11-24","o":0.43,"h":0.4538,"l":0.3999,"c":0.4302},{"d":"2024-11-25","o":0.4312,"h":0.4383,"l":0.3813,"c":0.3928},{"d":"2024-11-26","o":0.3922,"h":0.4099,"l":0.3655,"c":0.3873},{"d":"2024-11-27","o":0.3877,"h":0.409,"l":0.3808,"c":0.4013},{"d":"2024-11-28","o":0.4013,"h":0.4294,"l":0.3918,"c":0.4021},{"d":"2024-11-29","o":0.4021,"h":0.4377,"l":0.3995,"c":0.4271},{"d":"2024-11-30","o":0.4271,"h":0.4366,"l":0.4145,"c":0.4217},{"d":"2024-12-01","o":0.4217,"h":0.4506,"l":0.4164,"c":0.4407},{"d":"2024-12-02","o":0.4411,"h":0.464,"l":0.399,"c":0.4251},{"d":"2024-12-03","o":0.4259,"h":0.4306,"l":0.388,"c":0.4067},{"d":"2024-12-04","o":0.4073,"h":0.4383,"l":0.3999,"c":0.4335},{"d":"2024-12-05","o":0.434,"h":0.4666,"l":0.4078,"c":0.4271},{"d":"2024-12-06","o":0.428,"h":0.4426,"l":0.4202,"c":0.4356},{"d":"2024-12-07","o":0.436,"h":0.4666,"l":0.4321,"c":0.4538},{"d":"2024-12-08","o":0.4529,"h":0.4849,"l":0.4469,"c":0.4665},{"d":"2024-12-09","o":0.4669,"h":0.4674,"l":0.3823,"c":0.414},{"d":"2024-12-10","o":0.414,"h":0.4243,"l":0.366,"c":0.3946},{"d":"2024-12-11","o":0.3946,"h":0.4199,"l":0.3762,"c":0.4147},{"d":"2024-12-12","o":0.414,"h":0.4248,"l":0.401,"c":0.4064},{"d":"2024-12-13","o":0.4071,"h":0.4129,"l":0.3991,"c":0.4097},{"d":"2024-12-14","o":0.4089,"h":0.4137,"l":0.3874,"c":0.3975},{"d":"2024-12-15","o":0.3975,"h":0.4116,"l":0.3921,"c":0.4064},{"d":"2024-12-16","o":0.4064,"h":0.415,"l":0.3918,"c":0.4016},{"d":"2024-12-17","o":0.4021,"h":0.4112,"l":0.3911,"c":0.3935},{"d":"2024-12-18","o":0.3937,"h":0.3966,"l":0.352,"c":0.3575},{"d":"2024-12-19","o":0.3581,"h":0.3684,"l":0.3006,"c":0.3136},{"d":"2024-12-20","o":0.3145,"h":0.3293,"l":0.2631,"c":0.3178},{"d":"2024-12-21","o":0.3178,"h":0.3511,"l":0.3147,"c":0.32},{"d":"2024-12-22","o":0.32,"h":0.3244,"l":0.3054,"c":0.312},{"d":"2024-12-23","o":0.312,"h":0.3291,"l":0.3025,"c":0.325},{"d":"2024-12-24","o":0.3242,"h":0.3409,"l":0.3164,"c":0.3378},{"d":"2024-12-25","o":0.3365,"h":0.3426,"l":0.3261,"c":0.3339},{"d":"2024-12-26","o":0.3343,"h":0.3387,"l":0.3091,"c":0.3123},{"d":"2024-12-27","o":0.3131,"h":0.3256,"l":0.3091,"c":0.312},{"d":"2024-12-28","o":0.312,"h":0.3277,"l":0.311,"c":0.3242},{"d":"2024-12-29","o":0.3237,"h":0.3293,"l":0.3112,"c":0.3149},{"d":"2024-12-30","o":0.3136,"h":0.3231,"l":0.3061,"c":0.3134},{"d":"2024-12-31","o":0.3131,"h":0.3291,"l":0.3095,"c":0.3161},{"d":"2025-01-01","o":0.3161,"h":0.3277,"l":0.3117,"c":0.3242},{"d":"2025-01-02","o":0.325,"h":0.3455,"l":0.3241,"c":0.3381},{"d":"2025-01-03","o":0.3393,"h":0.39,"l":0.3353,"c":0.3801},{"d":"2025-01-04","o":0.3801,"h":0.3988,"l":0.3769,"c":0.395},{"d":"2025-01-05","o":0.395,"h":0.3984,"l":0.3747,"c":0.3826},{"d":"2025-01-06","o":0.3829,"h":0.3968,"l":0.3764,"c":0.3876},{"d":"2025-01-07","o":0.389,"h":0.3991,"l":0.3473,"c":0.3481},{"d":"2025-01-08","o":0.3478,"h":0.3564,"l":0.3247,"c":0.3422},{"d":"2025-01-09","o":0.3419,"h":0.3469,"l":0.3136,"c":0.321},{"d":"2025-01-10","o":0.3215,"h":0.3404,"l":0.3212,"c":0.3334},{"d":"2025-01-11","o":0.3342,"h":0.3487,"l":0.3298,"c":0.3405},{"d":"2025-01-12","o":0.3405,"h":0.3437,"l":0.3315,"c":0.3354},{"d":"2025-01-13","o":0.3354,"h":0.3458,"l":0.3101,"c":0.3384},{"d":"2025-01-14","o":0.3384,"h":0.3623,"l":0.3354,"c":0.3554},{"d":"2025-01-15","o":0.3563,"h":0.3882,"l":0.349,"c":0.385},{"d":"2025-01-16","o":0.385,"h":0.3908,"l":0.3672,"c":0.377},{"d":"2025-01-17","o":0.3761,"h":0.4228,"l":0.3756,"c":0.4151},{"d":"2025-01-18","o":0.4156,"h":0.4351,"l":0.3844,"c":0.3956},{"d":"2025-01-19","o":0.3956,"h":0.4104,"l":0.3477,"c":0.3575},{"d":"2025-01-20","o":0.3563,"h":0.3859,"l":0.3451,"c":0.3546},{"d":"2025-01-21","o":0.3546,"h":0.4021,"l":0.3354,"c":0.3728},{"d":"2025-01-22","o":0.3716,"h":0.3744,"l":0.3552,"c":0.3626},{"d":"2025-01-23","o":0.3626,"h":0.3647,"l":0.3417,"c":0.3525},{"d":"2025-01-24","o":0.3522,"h":0.3649,"l":0.3434,"c":0.3513},{"d":"2025-01-25","o":0.3498,"h":0.361,"l":0.3446,"c":0.3529},{"d":"2025-01-26","o":0.3532,"h":0.3575,"l":0.3354,"c":0.3355},{"d":"2025-01-27","o":0.3351,"h":0.3375,"l":0.3053,"c":0.3339},{"d":"2025-01-28","o":0.3339,"h":0.339,"l":0.3151,"c":0.3194},{"d":"2025-01-29","o":0.318,"h":0.3357,"l":0.3169,"c":0.3245},{"d":"2025-01-30","o":0.3248,"h":0.3398,"l":0.3222,"c":0.3309},{"d":"2025-01-31","o":0.3313,"h":0.3428,"l":0.3234,"c":0.3286},{"d":"2025-02-01","o":0.3283,"h":0.3331,"l":0.3032,"c":0.308},{"d":"2025-02-02","o":0.308,"h":0.3157,"l":0.2511,"c":0.2678},{"d":"2025-02-03","o":0.2678,"h":0.2933,"l":0.2043,"c":0.2859},{"d":"2025-02-04","o":0.2852,"h":0.2891,"l":0.2554,"c":0.2643},{"d":"2025-02-05","o":0.2631,"h":0.2696,"l":0.2534,"c":0.2558},{"d":"2025-02-06","o":0.2572,"h":0.2658,"l":0.2433,"c":0.2481},{"d":"2025-02-07","o":0.2475,"h":0.2622,"l":0.2387,"c":0.2473},{"d":"2025-02-08","o":0.2455,"h":0.2543,"l":0.2448,"c":0.2528},{"d":"2025-02-09","o":0.2529,"h":0.2607,"l":0.239,"c":0.249},{"d":"2025-02-10","o":0.249,"h":0.2566,"l":0.2413,"c":0.2555},{"d":"2025-02-11","o":0.2555,"h":0.27,"l":0.2481,"c":0.2528},{"d":"2025-02-12","o":0.2528,"h":0.2679,"l":0.2473,"c":0.2635},{"d":"2025-02-13","o":0.264,"h":0.2679,"l":0.2531,"c":0.2629},{"d":"2025-02-14","o":0.2629,"h":0.2874,"l":0.2607,"c":0.2711},{"d":"2025-02-15","o":0.271,"h":0.284,"l":0.2685,"c":0.2711},{"d":"2025-02-16","o":0.2711,"h":0.2746,"l":0.2632,"c":0.265},{"d":"2025-02-17","o":0.2661,"h":0.269,"l":0.2535,"c":0.2587},{"d":"2025-02-18","o":0.2588,"h":0.2588,"l":0.2417,"c":0.2501},{"d":"2025-02-19","o":0.2501,"h":0.2557,"l":0.2486,"c":0.2541},{"d":"2025-02-20","o":0.255,"h":0.2581,"l":0.2501,"c":0.2549},{"d":"2025-02-21","o":0.255,"h":0.2617,"l":0.2342,"c":0.2392},{"d":"2025-02-22","o":0.2392,"h":0.2486,"l":0.2387,"c":0.2461},{"d":"2025-02-23","o":0.247,"h":0.2481,"l":0.2399,"c":0.2428},{"d":"2025-02-24","o":0.2428,"h":0.244,"l":0.2069,"c":0.2111},{"d":"2025-02-25","o":0.212,"h":0.2151,"l":0.1961,"c":0.2111},{"d":"2025-02-26","o":0.212,"h":0.2141,"l":0.1961,"c":0.2036},{"d":"2025-02-27","o":0.2039,"h":0.2111,"l":0.2015,"c":0.2069},{"d":"2025-02-28","o":0.2069,"h":0.2111,"l":0.1819,"c":0.2024},{"d":"2025-03-01","o":0.2024,"h":0.212,"l":0.2015,"c":0.2069},{"d":"2025-03-02","o":0.2072,"h":0.243,"l":0.1985,"c":0.2397},{"d":"2025-03-03","o":0.24,"h":0.2421,"l":0.194,"c":0.1997},{"d":"2025-03-04","o":0.1997,"h":0.2018,"l":0.1835,"c":0.2},{"d":"2025-03-05","o":0.1986,"h":0.2068,"l":0.1969,"c":0.2046},{"d":"2025-03-06","o":0.2051,"h":0.2204,"l":0.1994,"c":0.2011},{"d":"2025-03-07","o":0.2011,"h":0.2086,"l":0.191,"c":0.1979},{"d":"2025-03-08","o":0.1979,"h":0.2013,"l":0.1911,"c":0.1923},{"d":"2025-03-09","o":0.1932,"h":0.1945,"l":0.1659,"c":0.1679},{"d":"2025-03-10","o":0.1683,"h":0.1811,"l":0.1509,"c":0.1542},{"d":"2025-03-11","o":0.1542,"h":0.1692,"l":0.1437,"c":0.1641},{"d":"2025-03-12","o":0.1645,"h":0.1744,"l":0.1596,"c":0.1734},{"d":"2025-03-13","o":0.1734,"h":0.1737,"l":0.1617,"c":0.1649},{"d":"2025-03-14","o":0.1645,"h":0.1761,"l":0.1642,"c":0.1717},{"d":"2025-03-15","o":0.1724,"h":0.1786,"l":0.1716,"c":0.1755},{"d":"2025-03-16","o":0.1763,"h":0.1772,"l":0.1663,"c":0.1679},{"d":"2025-03-17","o":0.1686,"h":0.1769,"l":0.1683,"c":0.1734},{"d":"2025-03-18","o":0.1734,"h":0.1741,"l":0.1631,"c":0.1679},{"d":"2025-03-19","o":0.1678,"h":0.1779,"l":0.1672,"c":0.1772},{"d":"2025-03-20","o":0.1783,"h":0.1803,"l":0.1683,"c":0.1696},{"d":"2025-03-21","o":0.1692,"h":0.1723,"l":0.1648,"c":0.1666},{"d":"2025-03-22","o":0.1673,"h":0.1692,"l":0.1662,"c":0.1666},{"d":"2025-03-23","o":0.1678,"h":0.1727,"l":0.1673,"c":0.1717},{"d":"2025-03-24","o":0.1721,"h":0.1892,"l":0.1709,"c":0.1827},{"d":"2025-03-25","o":0.1827,"h":0.1944,"l":0.1817,"c":0.1916},{"d":"2025-03-26","o":0.1906,"h":0.2061,"l":0.1901,"c":0.1948},{"d":"2025-03-27","o":0.1948,"h":0.2008,"l":0.188,"c":0.1911},{"d":"2025-03-28","o":0.1903,"h":0.1932,"l":0.1769,"c":0.1804},{"d":"2025-03-29","o":0.1804,"h":0.1804,"l":0.1663,"c":0.1692},{"d":"2025-03-30","o":0.1694,"h":0.1727,"l":0.1648,"c":0.1675},{"d":"2025-03-31","o":0.1669,"h":0.1692,"l":0.1596,"c":0.1671},{"d":"2025-04-01","o":0.1666,"h":0.1761,"l":0.1659,"c":0.1747},{"d":"2025-04-02","o":0.1737,"h":0.1803,"l":0.1624,"c":0.1645},{"d":"2025-04-03","o":0.1627,"h":0.1675,"l":0.1559,"c":0.1624},{"d":"2025-04-04","o":0.1624,"h":0.173,"l":0.1602,"c":0.1709},{"d":"2025-04-05","o":0.1707,"h":0.1718,"l":0.1666,"c":0.1683},{"d":"2025-04-06","o":0.1687,"h":0.1704,"l":0.1462,"c":0.1489},{"d":"2025-04-07","o":0.1496,"h":0.154,"l":0.1303,"c":0.1498},{"d":"2025-04-08","o":0.1497,"h":0.1571,"l":0.1417,"c":0.142},{"d":"2025-04-09","o":0.143,"h":0.1647,"l":0.1361,"c":0.1603},{"d":"2025-04-10","o":0.1603,"h":0.1606,"l":0.1495,"c":0.1527},{"d":"2025-04-11","o":0.1535,"h":0.162,"l":0.1533,"c":0.1599},{"d":"2025-04-12","o":0.1594,"h":0.1702,"l":0.1589,"c":0.1671},{"d":"2025-04-13","o":0.1683,"h":0.1689,"l":0.1616,"c":0.1623},{"d":"2025-04-14","o":0.1624,"h":0.1689,"l":0.1578,"c":0.158},{"d":"2025-04-15","o":0.158,"h":0.1617,"l":0.1528,"c":0.1531},{"d":"2025-04-16","o":0.1535,"h":0.1575,"l":0.1503,"c":0.1548},{"d":"2025-04-17","o":0.1555,"h":0.16,"l":0.153,"c":0.1557},{"d":"2025-04-18","o":0.1557,"h":0.1592,"l":0.1537,"c":0.158},{"d":"2025-04-19","o":0.1571,"h":0.1613,"l":0.1547,"c":0.1573},{"d":"2025-04-20","o":0.1565,"h":0.1596,"l":0.153,"c":0.1557},{"d":"2025-04-21","o":0.1548,"h":0.1638,"l":0.1545,"c":0.1594},{"d":"2025-04-22","o":0.1594,"h":0.1804,"l":0.158,"c":0.1785},{"d":"2025-04-23","o":0.1789,"h":0.1862,"l":0.1751,"c":0.1776},{"d":"2025-04-24","o":0.178,"h":0.1842,"l":0.1703,"c":0.1823},{"d":"2025-04-25","o":0.1823,"h":0.187,"l":0.1779,"c":0.1821},{"d":"2025-04-26","o":0.1818,"h":0.193,"l":0.1782,"c":0.1817},{"d":"2025-04-27","o":0.1818,"h":0.1832,"l":0.1775,"c":0.1793},{"d":"2025-04-28","o":0.18,"h":0.1832,"l":0.1744,"c":0.1789},{"d":"2025-04-29","o":0.1797,"h":0.1807,"l":0.1723,"c":0.1747},{"d":"2025-04-30","o":0.1747,"h":0.1769,"l":0.1673,"c":0.1724},{"d":"2025-05-01","o":0.1725,"h":0.1835,"l":0.1723,"c":0.1804},{"d":"2025-05-02","o":0.1807,"h":0.1849,"l":0.1768,"c":0.181},{"d":"2025-05-03","o":0.1814,"h":0.1824,"l":0.1748,"c":0.1754},{"d":"2025-05-04","o":0.1768,"h":0.1782,"l":0.1701,"c":0.1707},{"d":"2025-05-05","o":0.1709,"h":0.1751,"l":0.1666,"c":0.1707},{"d":"2025-05-06","o":0.1704,"h":0.1737,"l":0.1644,"c":0.1725},{"d":"2025-05-07","o":0.1716,"h":0.1748,"l":0.169,"c":0.173},{"d":"2025-05-08","o":0.1728,"h":0.1983,"l":0.172,"c":0.197},{"d":"2025-05-09","o":0.1969,"h":0.2141,"l":0.1925,"c":0.2046},{"d":"2025-05-10","o":0.2045,"h":0.2515,"l":0.2038,"c":0.2503},{"d":"2025-05-11","o":0.2498,"h":0.2597,"l":0.2227,"c":0.2307},{"d":"2025-05-12","o":0.2307,"h":0.2534,"l":0.2208,"c":0.2304},{"d":"2025-05-13","o":0.23,"h":0.2424,"l":0.218,"c":0.2418},{"d":"2025-05-14","o":0.2414,"h":0.2474,"l":0.2282,"c":0.2329},{"d":"2025-05-15","o":0.2329,"h":0.2373,"l":0.2142,"c":0.219},{"d":"2025-05-16","o":0.219,"h":0.2304,"l":0.2176,"c":0.2211},{"d":"2025-05-17","o":0.2203,"h":0.2203,"l":0.2109,"c":0.2144},{"d":"2025-05-18","o":0.2144,"h":0.2385,"l":0.2143,"c":0.233},{"d":"2025-05-19","o":0.2335,"h":0.2357,"l":0.2138,"c":0.2248},{"d":"2025-05-20","o":0.2248,"h":0.2319,"l":0.2181,"c":0.2267},{"d":"2025-05-21","o":0.2267,"h":0.2378,"l":0.2226,"c":0.2335},{"d":"2025-05-22","o":0.2352,"h":0.2463,"l":0.2349,"c":0.2445},{"d":"2025-05-23","o":0.2457,"h":0.2548,"l":0.2227,"c":0.2253},{"d":"2025-05-24","o":0.225,"h":0.2311,"l":0.2236,"c":0.2248},{"d":"2025-05-25","o":0.2252,"h":0.2268,"l":0.2151,"c":0.2254},{"d":"2025-05-26","o":0.2254,"h":0.2302,"l":0.2202,"c":0.2248},{"d":"2025-05-27","o":0.2253,"h":0.2328,"l":0.2196,"c":0.2267},{"d":"2025-05-28","o":0.2254,"h":0.2284,"l":0.2181,"c":0.221},{"d":"2025-05-29","o":0.2212,"h":0.2289,"l":0.2143,"c":0.2144},{"d":"2025-05-30","o":0.2144,"h":0.2161,"l":0.191,"c":0.1936},{"d":"2025-05-31","o":0.1936,"h":0.1963,"l":0.1855,"c":0.1922},{"d":"2025-06-01","o":0.1922,"h":0.1953,"l":0.1863,"c":0.1944},{"d":"2025-06-02","o":0.1944,"h":0.196,"l":0.1884,"c":0.1958},{"d":"2025-06-03","o":0.1944,"h":0.2013,"l":0.1922,"c":0.1927},{"d":"2025-06-04","o":0.1928,"h":0.1976,"l":0.1867,"c":0.1886},{"d":"2025-06-05","o":0.1886,"h":0.1924,"l":0.1677,"c":0.1715},{"d":"2025-06-06","o":0.1708,"h":0.1843,"l":0.1694,"c":0.1797},{"d":"2025-06-07","o":0.1797,"h":0.1891,"l":0.1781,"c":0.1848},{"d":"2025-06-08","o":0.1848,"h":0.1879,"l":0.1811,"c":0.1838},{"d":"2025-06-09","o":0.185,"h":0.1966,"l":0.1804,"c":0.1941},{"d":"2025-06-10","o":0.1941,"h":0.1987,"l":0.1891,"c":0.1983},{"d":"2025-06-11","o":0.1983,"h":0.2061,"l":0.1905,"c":0.1931},{"d":"2025-06-12","o":0.1932,"h":0.1946,"l":0.1799,"c":0.1814},{"d":"2025-06-13","o":0.1809,"h":0.1812,"l":0.1702,"c":0.1804},{"d":"2025-06-14","o":0.1801,"h":0.1807,"l":0.1746,"c":0.178},{"d":"2025-06-15","o":0.1784,"h":0.179,"l":0.1711,"c":0.1754},{"d":"2025-06-16","o":0.1761,"h":0.1819,"l":0.1726,"c":0.1729},{"d":"2025-06-17","o":0.1715,"h":0.1764,"l":0.1637,"c":0.1695},{"d":"2025-06-18","o":0.1694,"h":0.1722,"l":0.1633,"c":0.1708},{"d":"2025-06-19","o":0.1708,"h":0.1722,"l":0.1677,"c":0.1706},{"d":"2025-06-20","o":0.1716,"h":0.1722,"l":0.1588,"c":0.1623},{"d":"2025-06-21","o":0.1631,"h":0.1651,"l":0.1503,"c":0.1543},{"d":"2025-06-22","o":0.1545,"h":0.1578,"l":0.1432,"c":0.1516},{"d":"2025-06-23","o":0.1513,"h":0.1658,"l":0.1492,"c":0.1634},{"d":"2025-06-24","o":0.163,"h":0.1682,"l":0.1616,"c":0.1653},{"d":"2025-06-25","o":0.1658,"h":0.1687,"l":0.1629,"c":0.1655},{"d":"2025-06-26","o":0.1644,"h":0.1687,"l":0.1574,"c":0.1592},{"d":"2025-06-27","o":0.1605,"h":0.1633,"l":0.1569,"c":0.1615},{"d":"2025-06-28","o":0.1613,"h":0.1658,"l":0.1609,"c":0.1631},{"d":"2025-06-29","o":0.164,"h":0.1705,"l":0.1619,"c":0.1691},{"d":"2025-06-30","o":0.1691,"h":0.1703,"l":0.1626,"c":0.1653},{"d":"2025-07-01","o":0.1661,"h":0.1665,"l":0.1562,"c":0.1575},{"d":"2025-07-02","o":0.1575,"h":0.1733,"l":0.1569,"c":0.1687},{"d":"2025-07-03","o":0.1699,"h":0.1764,"l":0.1677,"c":0.172},{"d":"2025-07-04","o":0.1712,"h":0.1722,"l":0.1612,"c":0.1631},{"d":"2025-07-05","o":0.1631,"h":0.1665,"l":0.1622,"c":0.1644},{"d":"2025-07-06","o":0.1643,"h":0.1754,"l":0.1634,"c":0.1716},{"d":"2025-07-07","o":0.1725,"h":0.1768,"l":0.165,"c":0.1678},{"d":"2025-07-08","o":0.1678,"h":0.1726,"l":0.1658,"c":0.1712},{"d":"2025-07-09","o":0.1699,"h":0.1866,"l":0.1696,"c":0.1801},{"d":"2025-07-10","o":0.1812,"h":0.1962,"l":0.179,"c":0.1958},{"d":"2025-07-11","o":0.1948,"h":0.214,"l":0.1914,"c":0.2008},{"d":"2025-07-12","o":0.2008,"h":0.2064,"l":0.1925,"c":0.1969},{"d":"2025-07-13","o":0.1973,"h":0.2047,"l":0.1934,"c":0.1975},{"d":"2025-07-14","o":0.1975,"h":0.2116,"l":0.1938,"c":0.1965},{"d":"2025-07-15","o":0.1973,"h":0.2,"l":0.1884,"c":0.1992},{"d":"2025-07-16","o":0.1999,"h":0.2209,"l":0.1952,"c":0.2123},{"d":"2025-07-17","o":0.2134,"h":0.2226,"l":0.2065,"c":0.2182},{"d":"2025-07-18","o":0.2183,"h":0.2495,"l":0.2169,"c":0.2471}]
},
"vconcat":[
{"width":2726,"height":359,"layer":[
{"data":{"name":"one"},"mark":{"type":"rect","fill":"#e5d2cd"},"encoding":{"x":{"datum":{"year":2024,"month":8,"date":28,"hours":3,"minutes":20,"utc":true},"type":"temporal","scale":{"type":"utc","padding":0,"domain":["2024-08-25T08:38:00Z","2025-10-20T05:46:00Z"]},"axis":null},"x2":{"datum":{"year":2025,"month":9,"date":29,"hours":10,"utc":true}},"y":{"datum":70,"type":"quantitative","scale":{"domain":[22.04,107.67],"nice":false,"zero":false},"axis":{"orient":"right","offset":-135,"values":[40,60,80],"format":".2f","domain":false,"ticks":false,"grid":false,"labelPadding":16,"labelFont":"Inter","labelFontSize":20,"labelColor":"#5d5d5d","title":null,"labelOverlap":false}},"y2":{"datum":30}}},
{"data":{"values":[{"v":40},{"v":60},{"v":80}]},"mark":{"type":"rule","stroke":"#e8e4ea","strokeWidth":1.5},"encoding":{"x":{"datum":{"year":2024,"month":8,"date":28,"hours":3,"minutes":20,"utc":true},"type":"temporal"},"x2":{"datum":{"year":2025,"month":9,"date":29,"hours":10,"utc":true}},"y":{"field":"v","type":"quantitative"}}},
{"data":{"name":"months"},"mark":{"type":"rule","stroke":"#e8e4ea","strokeWidth":1.5},"encoding":{"x":{"field":"d","type":"temporal"},"y":{"datum":22.04,"type":"quantitative"},"y2":{"datum":95.98}}},
{"data":{"values":[{"v":70},{"v":30}]},"mark":{"type":"rule","stroke":"#6f6a78","strokeWidth":1.5,"strokeDash":[4,4]},"encoding":{"x":{"datum":{"year":2024,"month":8,"date":28,"hours":3,"minutes":20,"utc":true},"type":"temporal"},"x2":{"datum":{"year":2025,"month":9,"date":29,"hours":10,"utc":true}},"y":{"field":"v","type":"quantitative"}}},
{"data":{"values":[{"v":50}]},"mark":{"type":"rule","stroke":"#9a9296","strokeWidth":1.5,"strokeDash":[4,4]},"encoding":{"x":{"datum":{"year":2024,"month":8,"date":28,"hours":3,"minutes":20,"utc":true},"type":"temporal"},"x2":{"datum":{"year":2025,"month":9,"date":29,"hours":10,"utc":true}},"y":{"field":"v","type":"quantitative"}}},
{"data":{"name":"over"},"mark":{"type":"area","color":{"gradient":"linear","x1":0,"y1":0,"x2":0,"y2":1,"stops":[{"offset":0,"color":"#6fb26b"},{"offset":0.5,"color":"#b5cf9c"},{"offset":1,"color":"#f0dfc8"}]}},"encoding":{"x":{"field":"d","type":"temporal"},"y":{"field":"v","type":"quantitative"},"y2":{"datum":70}}},
{"data":{"name":"rsi"},"mark":{"type":"line","stroke":"#7e57c2","strokeWidth":2},"encoding":{"x":{"field":"d","type":"temporal"},"y":{"field":"v","type":"quantitative"}}},
{"data":{"name":"rsima"},"mark":{"type":"line","stroke":"#fdd835","strokeWidth":2},"encoding":{"x":{"field":"d","type":"temporal"},"y":{"field":"v","type":"quantitative"}}},
{"data":{"name":"one"},"mark":{"type":"rect","fill":"#1e1e1e"},"encoding":{"x":{"datum":{"year":2024,"month":8,"date":25,"hours":8,"minutes":38,"utc":true},"type":"temporal"},"x2":{"datum":{"year":2025,"month":10,"date":20,"hours":5,"minutes":46,"utc":true}},"y":{"datum":107.67,"type":"quantitative"},"y2":{"datum":95.98}}},
{"data":{"name":"one"},"mark":{"type":"rect","fill":"#1e1e1e"},"encoding":{"x":{"datum":{"year":2024,"month":8,"date":25,"hours":8,"minutes":38,"utc":true},"type":"temporal"},"x2":{"datum":{"year":2024,"month":8,"date":28,"hours":3,"minutes":20,"utc":true}},"y":{"datum":107.67,"type":"quantitative"},"y2":{"datum":22.04}}},
{"data":{"name":"one"},"mark":{"type":"rect","fill":"#1e1e1e"},"encoding":{"x":{"datum":{"year":2025,"month":10,"date":17,"hours":11,"utc":true},"type":"temporal"},"x2":{"datum":{"year":2025,"month":10,"date":20,"hours":5,"minutes":46,"utc":true}},"y":{"datum":107.67,"type":"quantitative"},"y2":{"datum":22.04}}},
{"data":{"name":"one"},"mark":{"type":"rule","stroke":"#8f8a85","strokeWidth":1.5},"encoding":{"x":{"datum":{"year":2024,"month":8,"date":28,"hours":3,"minutes":20,"utc":true},"type":"temporal"},"x2":{"datum":{"year":2025,"month":10,"date":17,"hours":11,"utc":true}},"y":{"datum":95.98,"type":"quantitative"}}},
{"data":{"name":"one"},"mark":{"type":"rule","stroke":"#8f8a85","strokeWidth":1},"encoding":{"x":{"datum":{"year":2024,"month":8,"date":28,"hours":3,"minutes":20,"utc":true},"type":"temporal"},"y":{"datum":95.98,"type":"quantitative"},"y2":{"datum":22.04}}},
{"data":{"name":"one"},"mark":{"type":"rule","stroke":"#6b6b6b","strokeWidth":1},"encoding":{"x":{"datum":{"year":2025,"month":9,"date":29,"hours":10,"utc":true},"type":"temporal"},"y":{"datum":95.98,"type":"quantitative"},"y2":{"datum":22.04}}},
{"data":{"name":"one"},"mark":{"type":"rule","stroke":"#2a2a2a","strokeWidth":2},"encoding":{"x":{"datum":{"year":2024,"month":8,"date":28,"hours":3,"minutes":20,"utc":true},"type":"temporal"},"x2":{"datum":{"year":2025,"month":10,"date":17,"hours":11,"utc":true}},"y":{"datum":22.3,"type":"quantitative"}}},
{"data":{"name":"one"},"mark":{"type":"text","align":"left","baseline":"middle","font":"Inter","fontSize":21.5,"fill":"#d9d9d9"},"encoding":{"x":{"datum":{"year":2024,"month":8,"date":28,"hours":3,"minutes":20,"utc":true},"type":"temporal"},"y":{"datum":100.99,"type":"quantitative"},"text":{"value":"bitcoinwallah created with TradingView.com, Jul 18, 2025 13:26 UTC"}}},
{"data":{"name":"one"},"mark":{"type":"text","align":"left","baseline":"middle","font":"Inter","fontSize":21.5,"fill":"#555555"},"encoding":{"x":{"datum":{"year":2024,"month":8,"date":30,"hours":7,"utc":true},"type":"temporal"},"y":{"datum":89,"type":"quantitative"},"text":{"value":"RSI (14, close)"}}},
{"data":{"name":"one"},"mark":{"type":"text","align":"left","baseline":"middle","font":"Inter","fontSize":21.5,"fill":"#7e57c2"},"encoding":{"x":{"datum":{"year":2024,"month":9,"date":23,"hours":19,"utc":true},"type":"temporal"},"y":{"datum":89,"type":"quantitative"},"text":{"value":"80.26"}}},
{"data":{"name":"one"},"mark":{"type":"text","align":"left","baseline":"middle","font":"Inter","fontSize":21.5,"fill":"#fdd835"},"encoding":{"x":{"datum":{"year":2024,"month":10,"date":4,"hours":19,"utc":true},"type":"temporal"},"y":{"datum":89,"type":"quantitative"},"text":{"value":"61.18"}}}
]},
{"width":2726,"height":1154,"layer":[
{"data":{"values":[{"p":0.1},{"p":0.15},{"p":0.2},{"p":0.25},{"p":0.3},{"p":0.35},{"p":0.4},{"p":0.45}]},"mark":{"type":"rule","stroke":"#ece6e0","strokeWidth":1.5},"encoding":{"x":{"datum":{"year":2024,"month":8,"date":28,"hours":3,"minutes":20,"utc":true},"type":"temporal","scale":{"type":"utc","padding":0,"domain":["2024-08-25T08:38:00Z","2025-10-20T05:46:00Z"]},"axis":{"orient":"bottom","offset":-113,"values":["2024-09-01T00:00:00Z","2024-10-01T00:00:00Z","2024-11-01T00:00:00Z","2024-12-01T00:00:00Z","2025-01-01T00:00:00Z","2025-02-01T00:00:00Z","2025-03-01T00:00:00Z","2025-04-01T00:00:00Z","2025-05-01T00:00:00Z","2025-06-01T00:00:00Z","2025-07-01T00:00:00Z","2025-08-01T00:00:00Z","2025-09-01T00:00:00Z"],"labelExpr":"utcmonth(datum.value)==0 ? '2025' : utcFormat(datum.value,'%b')","labelFontWeight":{"condition":{"test":"utcmonth(datum.value)==0","value":"bold"},"value":"normal"},"domain":false,"ticks":false,"grid":false,"labelPadding":13,"labelFont":"Inter","labelFontSize":20,"labelColor":"#5d5d5d","title":null,"labelOverlap":false}},"x2":{"datum":{"year":2025,"month":9,"date":29,"hours":10,"utc":true}},"y":{"field":"p","type":"quantitative","scale":{"domain":[0.01815,0.50755],"nice":false,"zero":false},"axis":{"orient":"right","offset":-135,"values":[0.1,0.15,0.2,0.25,0.3,0.35,0.4,0.45],"format":".4f","domain":false,"ticks":false,"grid":false,"labelPadding":16,"labelFont":"Inter","labelFontSize":20,"labelColor":"#5d5d5d","title":null,"labelOverlap":false}}}},
{"data":{"name":"months"},"mark":{"type":"rule","stroke":"#ece6e0","strokeWidth":1.5},"encoding":{"x":{"field":"d","type":"temporal"},"y":{"datum":0.06607,"type":"quantitative"},"y2":{"datum":0.50755}}},
{"data":{"name":"one"},"mark":{"type":"rule","stroke":"#5a9a78","strokeWidth":1,"strokeDash":[1,3]},"encoding":{"x":{"datum":{"year":2024,"month":8,"date":28,"hours":3,"minutes":20,"utc":true},"type":"temporal"},"x2":{"datum":{"year":2025,"month":9,"date":11,"hours":23,"utc":true}},"y":{"datum":0.2471,"type":"quantitative"}}},
{"data":{"name":"ema200"},"mark":{"type":"line","stroke":"#2a2aff","strokeWidth":2},"encoding":{"x":{"field":"d","type":"temporal"},"y":{"field":"v","type":"quantitative"}}},
{"data":{"name":"ema50"},"mark":{"type":"line","stroke":"#f23645","strokeWidth":2},"encoding":{"x":{"field":"d","type":"temporal"},"y":{"field":"v","type":"quantitative"}}},
{"data":{"name":"arrows"},"transform":[{"filter":"datum.a=='1'"}],"mark":{"type":"area","orient":"horizontal","fill":"#000000"},"encoding":{"x":{"field":"l","type":"temporal"},"x2":{"field":"r"},"y":{"field":"p","type":"quantitative"}}},
{"data":{"name":"arrows"},"transform":[{"filter":"datum.a=='2'"}],"mark":{"type":"area","orient":"horizontal","fill":"#000000"},"encoding":{"x":{"field":"l","type":"temporal"},"x2":{"field":"r"},"y":{"field":"p","type":"quantitative"}}},
{"data":{"name":"candles"},"mark":{"type":"rule","stroke":"#6f6f6f","strokeWidth":1.2},"encoding":{"x":{"field":"d","type":"temporal"},"y":{"field":"l","type":"quantitative"},"y2":{"field":"h"}}},
{"data":{"name":"candles"},"mark":{"type":"bar","size":3.6,"strokeWidth":1},"encoding":{"x":{"field":"d","type":"temporal"},"y":{"field":"o","type":"quantitative"},"y2":{"field":"c"},"fill":{"condition":{"test":"datum.c>=datum.o","value":"#5b9b78"},"value":"#d1432f"},"stroke":{"condition":{"test":"datum.c>=datum.o","value":"#1e5a3c"},"value":"#6b1d15"}}},
{"data":{"values":[{"v":0.2499},{"v":0.1421}]},"mark":{"type":"rule","stroke":"#000000","strokeWidth":3},"encoding":{"x":{"datum":{"year":2024,"month":8,"date":28,"hours":3,"minutes":20,"utc":true},"type":"temporal"},"x2":{"datum":{"year":2025,"month":9,"date":29,"hours":10,"utc":true}},"y":{"field":"v","type":"quantitative"}}},
{"data":{"name":"one"},"mark":{"type":"rule","stroke":"#000000","strokeWidth":3,"strokeDash":[3,6]},"encoding":{"x":{"datum":{"year":2024,"month":8,"date":28,"hours":3,"minutes":20,"utc":true},"type":"temporal"},"x2":{"datum":{"year":2025,"month":9,"date":29,"hours":10,"utc":true}},"y":{"datum":0.3573,"type":"quantitative"}}},
{"data":{"name":"one"},"mark":{"type":"rect","fill":"#1e1e1e"},"encoding":{"x":{"datum":{"year":2024,"month":8,"date":25,"hours":8,"minutes":38,"utc":true},"type":"temporal"},"x2":{"datum":{"year":2025,"month":10,"date":20,"hours":5,"minutes":46,"utc":true}},"y":{"datum":0.04529,"type":"quantitative"},"y2":{"datum":0.01815}}},
{"data":{"name":"one"},"mark":{"type":"rect","fill":"#1e1e1e"},"encoding":{"x":{"datum":{"year":2024,"month":8,"date":25,"hours":8,"minutes":38,"utc":true},"type":"temporal"},"x2":{"datum":{"year":2024,"month":8,"date":28,"hours":3,"minutes":20,"utc":true}},"y":{"datum":0.50755,"type":"quantitative"},"y2":{"datum":0.01815}}},
{"data":{"name":"one"},"mark":{"type":"rect","fill":"#1e1e1e"},"encoding":{"x":{"datum":{"year":2025,"month":10,"date":17,"hours":11,"utc":true},"type":"temporal"},"x2":{"datum":{"year":2025,"month":10,"date":20,"hours":5,"minutes":46,"utc":true}},"y":{"datum":0.50755,"type":"quantitative"},"y2":{"datum":0.01815}}},
{"data":{"name":"one"},"mark":{"type":"rule","stroke":"#8f8a85","strokeWidth":1},"encoding":{"x":{"datum":{"year":2024,"month":8,"date":28,"hours":3,"minutes":20,"utc":true},"type":"temporal"},"y":{"datum":0.50755,"type":"quantitative"},"y2":{"datum":0.04529}}},
{"data":{"name":"one"},"mark":{"type":"rule","stroke":"#8f8a85","strokeWidth":1.5},"encoding":{"x":{"datum":{"year":2024,"month":8,"date":28,"hours":3,"minutes":20,"utc":true},"type":"temporal"},"x2":{"datum":{"year":2025,"month":10,"date":17,"hours":11,"utc":true}},"y":{"datum":0.04529,"type":"quantitative"}}},
{"data":{"name":"one"},"mark":{"type":"rule","stroke":"#6b6b6b","strokeWidth":1},"encoding":{"x":{"datum":{"year":2025,"month":9,"date":29,"hours":10,"utc":true},"type":"temporal"},"y":{"datum":0.50755,"type":"quantitative"},"y2":{"datum":0.04529}}},
{"data":{"name":"one"},"mark":{"type":"rule","stroke":"#7a7a7a","strokeWidth":1},"encoding":{"x":{"datum":{"year":2024,"month":8,"date":28,"hours":3,"minutes":20,"utc":true},"type":"temporal"},"x2":{"datum":{"year":2025,"month":10,"date":17,"hours":11,"utc":true}},"y":{"datum":0.06607,"type":"quantitative"}}},
{"data":{"name":"one"},"mark":{"type":"rect","fill":"#000000","cornerRadius":3},"encoding":{"x":{"datum":{"year":2025,"month":9,"date":29,"hours":10,"utc":true},"type":"temporal"},"x2":{"datum":{"year":2025,"month":10,"date":13,"hours":22,"utc":true}},"y":{"datum":0.3636,"type":"quantitative"},"y2":{"datum":0.3513}}},
{"data":{"name":"one"},"mark":{"type":"rect","fill":"#000000","cornerRadius":3},"encoding":{"x":{"datum":{"year":2025,"month":9,"date":29,"hours":10,"utc":true},"type":"temporal"},"x2":{"datum":{"year":2025,"month":10,"date":13,"hours":22,"utc":true}},"y":{"datum":0.265,"type":"quantitative"},"y2":{"datum":0.2531}}},
{"data":{"name":"one"},"mark":{"type":"rect","fill":"#000000","cornerRadius":3},"encoding":{"x":{"datum":{"year":2025,"month":9,"date":29,"hours":10,"utc":true},"type":"temporal"},"x2":{"datum":{"year":2025,"month":10,"date":13,"hours":22,"utc":true}},"y":{"datum":0.1479,"type":"quantitative"},"y2":{"datum":0.1356}}},
{"data":{"name":"one"},"mark":{"type":"rect","fill":"#6fa886","cornerRadius":3},"encoding":{"x":{"datum":{"year":2025,"month":9,"date":29,"hours":10,"utc":true},"type":"temporal"},"x2":{"datum":{"year":2025,"month":10,"date":16,"hours":14,"utc":true}},"y":{"datum":0.2531,"type":"quantitative"},"y2":{"datum":0.231}}},
{"data":{"name":"one"},"mark":{"type":"rect","fill":"#6fa886","cornerRadius":3},"encoding":{"x":{"datum":{"year":2025,"month":9,"date":11,"hours":23,"utc":true},"type":"temporal"},"x2":{"datum":{"year":2025,"month":9,"date":29,"hours":10,"utc":true}},"y":{"datum":0.2531,"type":"quantitative"},"y2":{"datum":0.2411}}},
{"data":{"name":"one"},"mark":{"type":"rect","fill":"#ffffff","cornerRadius":5},"encoding":{"x":{"datum":{"year":2025,"month":9,"date":30,"hours":7,"utc":true},"type":"temporal"},"x2":{"datum":{"year":2025,"month":10,"date":16,"hours":17,"utc":true}},"y":{"datum":0.5037,"type":"quantitative"},"y2":{"datum":0.4842}}},
{"data":{"name":"one"},"mark":{"type":"text","align":"center","baseline":"middle","font":"Inter","fontSize":20,"fill":"#1e222d"},"encoding":{"x":{"datum":{"year":2025,"month":10,"date":6,"hours":7,"utc":true},"type":"temporal"},"y":{"datum":0.494,"type":"quantitative"},"text":{"value":"USD"}}},
{"data":{"name":"one"},"mark":{"type":"text","align":"left","baseline":"middle","font":"Inter","fontSize":20,"fill":"#ffffff"},"encoding":{"x":{"datum":{"year":2025,"month":10,"date":2,"hours":17,"utc":true},"type":"temporal"},"y":{"datum":0.3574,"type":"quantitative"},"text":{"value":"0.3573"}}},
{"data":{"name":"one"},"mark":{"type":"text","align":"left","baseline":"middle","font":"Inter","fontSize":20,"fill":"#ffffff"},"encoding":{"x":{"datum":{"year":2025,"month":10,"date":2,"hours":17,"utc":true},"type":"temporal"},"y":{"datum":0.259,"type":"quantitative"},"text":{"value":"0.2499"}}},
{"data":{"name":"one"},"mark":{"type":"text","align":"left","baseline":"middle","font":"Inter","fontSize":20,"fill":"#ffffff"},"encoding":{"x":{"datum":{"year":2025,"month":10,"date":2,"hours":17,"utc":true},"type":"temporal"},"y":{"datum":0.142,"type":"quantitative"},"text":{"value":"0.1421"}}},
{"data":{"name":"one"},"mark":{"type":"text","align":"left","baseline":"middle","font":"Inter","fontSize":20,"fill":"#ffffff"},"encoding":{"x":{"datum":{"year":2025,"month":10,"date":2,"hours":17,"utc":true},"type":"temporal"},"y":{"datum":0.2472,"type":"quantitative"},"text":{"value":"0.2471"}}},
{"data":{"name":"one"},"mark":{"type":"text","align":"left","baseline":"middle","font":"Inter","fontSize":20,"fill":"#cfe4d5"},"encoding":{"x":{"datum":{"year":2025,"month":10,"date":2,"hours":17,"utc":true},"type":"temporal"},"y":{"datum":0.2374,"type":"quantitative"},"text":{"value":"10:33:09"}}},
{"data":{"name":"one"},"mark":{"type":"text","align":"center","baseline":"middle","font":"Inter","fontSize":20,"fill":"#ffffff"},"encoding":{"x":{"datum":{"year":2025,"month":9,"date":20,"hours":14,"utc":true},"type":"temporal"},"y":{"datum":0.2472,"type":"quantitative"},"text":{"value":"DOGEUSD"}}},
{"data":{"name":"one"},"mark":{"type":"text","align":"center","baseline":"middle","font":"Inter","fontSize":29.5,"fontWeight":"bold","fill":"#000000"},"encoding":{"x":{"datum":{"year":2025,"month":4,"date":11,"hours":12,"utc":true},"type":"temporal"},"y":{"datum":0.1246,"type":"quantitative"},"text":{"value":"Bottom 1"}}},
{"data":{"name":"one"},"mark":{"type":"text","align":"center","baseline":"middle","font":"Inter","fontSize":29.5,"fontWeight":"bold","fill":"#000000"},"encoding":{"x":{"datum":{"year":2025,"month":6,"date":24,"hours":14,"utc":true},"type":"temporal"},"y":{"datum":0.1246,"type":"quantitative"},"text":{"value":"Bottom 2"}}},
{"data":{"name":"one"},"mark":{"type":"text","align":"left","baseline":"middle","font":"Inter","fontSize":21.5,"fill":"#555555"},"encoding":{"x":{"datum":{"year":2024,"month":8,"date":30,"hours":7,"utc":true},"type":"temporal"},"y":{"datum":0.4952,"type":"quantitative"},"text":{"value":"Dogecoin / US Dollar · 1D · BINANCE"}}},
{"data":{"name":"one"},"mark":{"type":"text","align":"left","baseline":"middle","font":"Inter","fontSize":21.5,"fill":"#555555"},"encoding":{"x":{"datum":{"year":2024,"month":10,"date":28,"hours":3,"utc":true},"type":"temporal"},"y":{"datum":0.4952,"type":"quantitative"},"text":{"value":"O"}}},
{"data":{"name":"one"},"mark":{"type":"text","align":"left","baseline":"middle","font":"Inter","fontSize":21.5,"fill":"#1b5e3a"},"encoding":{"x":{"datum":{"year":2024,"month":10,"date":30,"hours":14,"utc":true},"type":"temporal"},"y":{"datum":0.4952,"type":"quantitative"},"text":{"value":"0.2183"}}},
{"data":{"name":"one"},"mark":{"type":"text","align":"left","baseline":"middle","font":"Inter","fontSize":21.5,"fill":"#555555"},"encoding":{"x":{"datum":{"year":2024,"month":11,"date":12,"hours":6,"utc":true},"type":"temporal"},"y":{"datum":0.4952,"type":"quantitative"},"text":{"value":"H"}}},
{"data":{"name":"one"},"mark":{"type":"text","align":"left","baseline":"middle","font":"Inter","fontSize":21.5,"fill":"#1b5e3a"},"encoding":{"x":{"datum":{"year":2024,"month":11,"date":14,"hours":5,"utc":true},"type":"temporal"},"y":{"datum":0.4952,"type":"quantitative"},"text":{"value":"0.2495"}}},
{"data":{"name":"one"},"mark":{"type":"text","align":"left","baseline":"middle","font":"Inter","fontSize":21.5,"fill":"#555555"},"encoding":{"x":{"datum":{"year":2024,"month":11,"date":27,"hours":20,"utc":true},"type":"temporal"},"y":{"datum":0.4952,"type":"quantitative"},"text":{"value":"L"}}},
{"data":{"name":"one"},"mark":{"type":"text","align":"left","baseline":"middle","font":"Inter","fontSize":21.5,"fill":"#1b5e3a"},"encoding":{"x":{"datum":{"year":2024,"month":11,"date":29,"hours":10,"utc":true},"type":"temporal"},"y":{"datum":0.4952,"type":"quantitative"},"text":{"value":"0.2169"}}},
{"data":{"name":"one"},"mark":{"type":"text","align":"left","baseline":"middle","font":"Inter","fontSize":21.5,"fill":"#555555"},"encoding":{"x":{"datum":{"year":2024,"month":12,"date":12,"hours":5,"utc":true},"type":"temporal"},"y":{"datum":0.4952,"type":"quantitative"},"text":{"value":"C"}}},
{"data":{"name":"one"},"mark":{"type":"text","align":"left","baseline":"middle","font":"Inter","fontSize":21.5,"fill":"#1b5e3a"},"encoding":{"x":{"datum":{"year":2024,"month":12,"date":14,"hours":4,"utc":true},"type":"temporal"},"y":{"datum":0.4952,"type":"quantitative"},"text":{"value":"0.2471"}}},
{"data":{"name":"one"},"mark":{"type":"text","align":"left","baseline":"middle","font":"Inter","fontSize":21.5,"fill":"#1b5e3a"},"encoding":{"x":{"datum":{"year":2024,"month":12,"date":27,"utc":true},"type":"temporal"},"y":{"datum":0.4952,"type":"quantitative"},"text":{"value":"+0.0288 (+13.19%)"}}},
{"data":{"name":"one"},"mark":{"type":"text","align":"left","baseline":"middle","font":"Inter","fontSize":21.5,"fill":"#555555"},"encoding":{"x":{"datum":{"year":2024,"month":8,"date":30,"hours":7,"utc":true},"type":"temporal"},"y":{"datum":0.4821,"type":"quantitative"},"text":{"value":"EMA (50, close)"}}},
{"data":{"name":"one"},"mark":{"type":"text","align":"left","baseline":"middle","font":"Inter","fontSize":21.5,"fill":"#f23645"},"encoding":{"x":{"datum":{"year":2024,"month":9,"date":26,"hours":2,"utc":true},"type":"temporal"},"y":{"datum":0.4821,"type":"quantitative"},"text":{"value":"0.1872"}}},
{"data":{"name":"one"},"mark":{"type":"text","align":"left","baseline":"middle","font":"Inter","fontSize":21.5,"fill":"#555555"},"encoding":{"x":{"datum":{"year":2024,"month":8,"date":30,"hours":7,"utc":true},"type":"temporal"},"y":{"datum":0.4685,"type":"quantitative"},"text":{"value":"EMA (200, close)"}}},
{"data":{"name":"one"},"mark":{"type":"text","align":"left","baseline":"middle","font":"Inter","fontSize":21.5,"fill":"#2a2aff"},"encoding":{"x":{"datum":{"year":2024,"month":9,"date":28,"hours":5,"utc":true},"type":"temporal"},"y":{"datum":0.4685,"type":"quantitative"},"text":{"value":"0.2033"}}},
{"data":{"name":"one"},"mark":{"type":"point","filled":true,"fill":"#e6e6e6","stroke":null,"opacity":1,"size":1225,"shape":"M-.222 .444H-.611V-.167H-1V-.556H-.222ZM.556 .444H.111L.528 -.556H.972ZM.333 -.389A.222 .222 0 1 1 -.111 -.389A.222 .222 0 1 1 .333 -.389Z"},"encoding":{"x":{"datum":{"year":2024,"month":8,"date":30,"hours":21,"utc":true},"type":"temporal"},"y":{"datum":0.0321,"type":"quantitative"}}},
{"data":{"name":"one"},"mark":{"type":"text","align":"left","baseline":"middle","font":"Inter","fontSize":23,"fill":"#d9d9d9"},"encoding":{"x":{"datum":{"year":2024,"month":9,"date":3,"hours":16,"utc":true},"type":"temporal"},"y":{"datum":0.0313,"type":"quantitative"},"text":{"value":"TradingView"}}}
]}
]}
